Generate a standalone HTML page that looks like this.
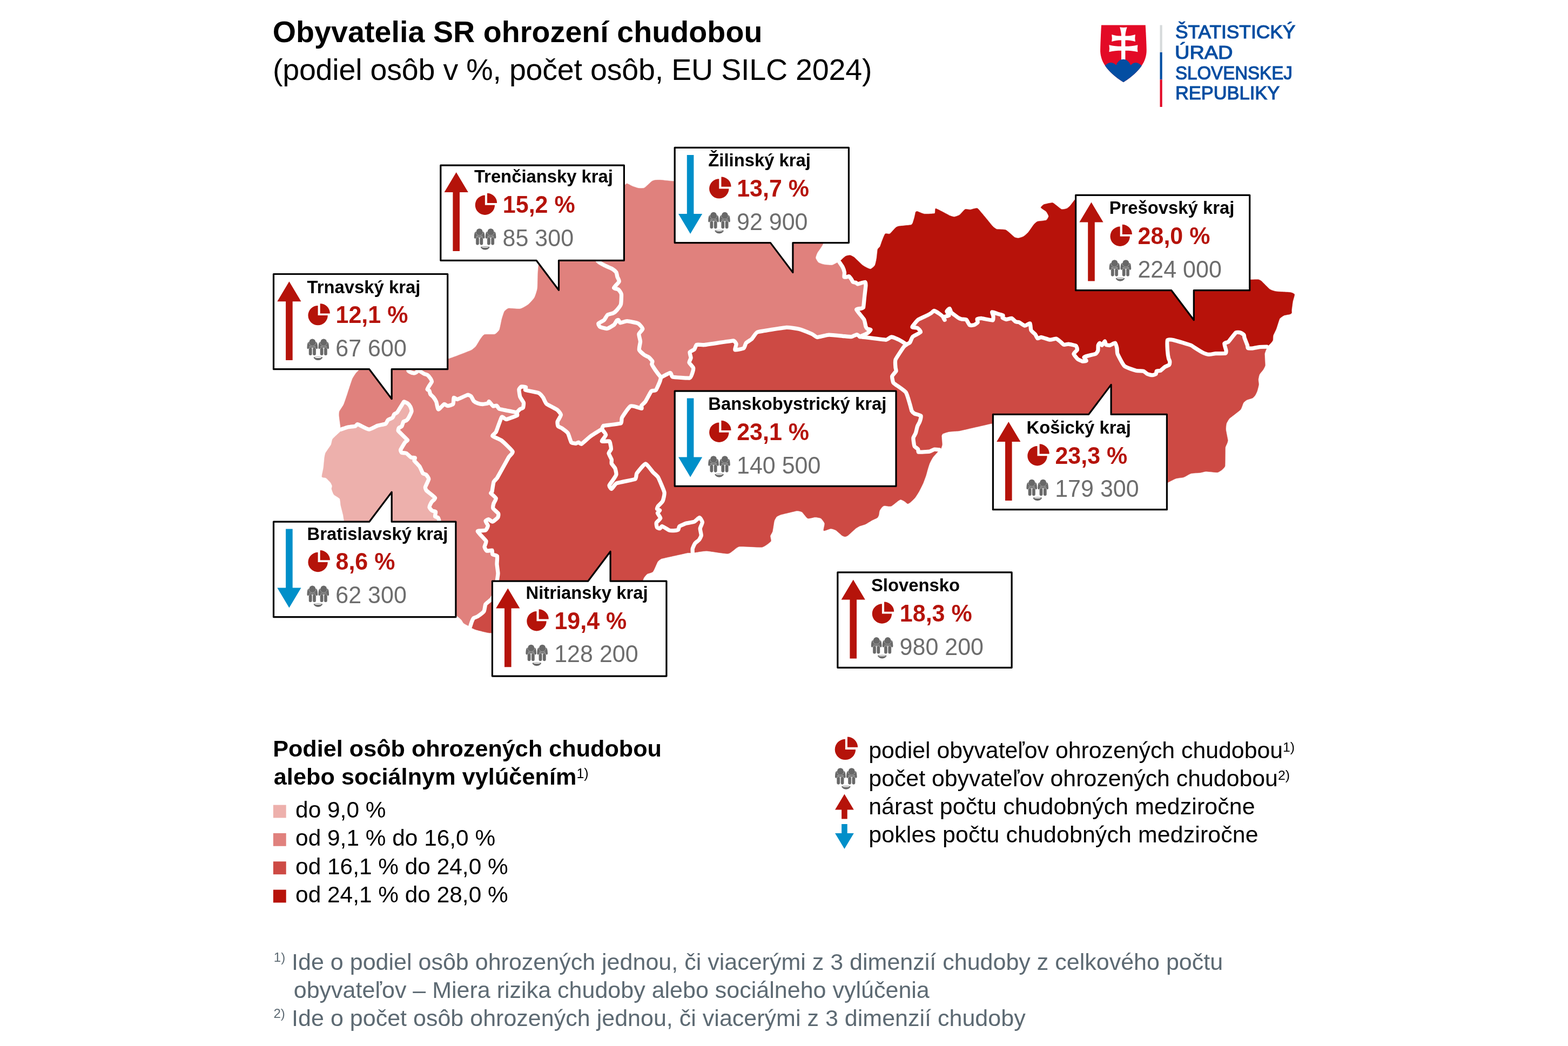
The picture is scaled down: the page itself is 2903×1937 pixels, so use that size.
<!DOCTYPE html>
<html lang="sk"><head><meta charset="utf-8"><title>Obyvatelia SR ohrození chudobou</title>
<style>
html,body{margin:0;padding:0;background:#fff}
body{width:2903px;height:1937px;position:relative;overflow:hidden;font-family:"Liberation Sans",sans-serif;color:#000}
svg{position:absolute;left:0;top:0}
.t{position:absolute;white-space:nowrap;line-height:1;margin:0}
.t sup{font-size:58%;vertical-align:baseline;position:relative;top:-0.48em;line-height:0}
</style></head><body>
<svg width="2903" height="1937" viewBox="0 0 2903 1937">
<defs><clipPath id="pbc"><path d="M2.6 6.4C1.2 7.4.6 10 .3 16.2c-.1 1.700.6 2.600 1.800 2.600 1 0 1.600-.6 1.700-1.800H16.500c.1 1.200.7 1.800 1.700 1.800 1.200 0 1.900-.9 1.800-2.600C19.7 10 19.100 7.400 17.700 6.400 16.900 5.900 16.200 5.900 15.500 6.300H4.800C4.100 5.900 3.400 5.900 2.600 6.400Z"/></clipPath>
<g id="ppl1">
<path fill="#686868" d="M2.6 6.4C1.2 7.4.6 10 .3 16.2c-.1 1.700.6 2.600 1.800 2.600 1 0 1.600-.6 1.700-1.800H16.500c.1 1.200.7 1.800 1.700 1.800 1.200 0 1.900-.9 1.800-2.600C19.7 10 19.100 7.400 17.700 6.400 16.900 5.900 16.200 5.900 15.500 6.300H4.800C4.100 5.900 3.400 5.900 2.600 6.400Z"/>
<circle cx="10.15" cy="6.3" r="6.9" fill="none" stroke="#b4b4b4" stroke-width="0.8" clip-path="url(#pbc)"/>
<circle cx="10.15" cy="6.1" r="5.85" fill="#686868"/>
<path fill="#d2d2d2" d="M4.1 14.2h4.3l-.3.7H4.1ZM11.900 14.200h4.200v.7H12.200ZM8.700 15.300h2.900l-.3.7H9Z"/>
<rect x="3.4" y="16.2" width="6.2" height="14.6" rx="3.1" fill="#b4b4b4"/>
<rect x="10.7" y="16.2" width="6.2" height="14.6" rx="3.1" fill="#b4b4b4"/>
<rect x="3.85" y="16.8" width="5.3" height="13.8" rx="2.65" fill="#686868"/>
<rect x="11.15" y="16.800" width="5.3" height="13.8" rx="2.65" fill="#686868"/>
</g>
<g id="ppl">
<use href="#ppl1"/>
<use href="#ppl1" x="20.9"/>
<path fill="#686868" d="M12.400 34.600a8.300 1.500 0 0 1 16.600 0c-1.300 3.200-4.700 5.200-8.300 5.200s-7-2-8.300-5.200Z"/>
<ellipse cx="20.7" cy="34.7" rx="6.6" ry="0.95" fill="#fff"/>
</g>
</defs>
<g id="map">
<path fill="#edb0ac" stroke="#edb0ac" stroke-width="0.6" stroke-linejoin="round" d="M629.8 795.6C630.6 795.1 642.4 791.4 644.9 790.8C647.4 790.2 656.6 789.5 657.7 789.2C658.8 788.9 660.8 785.9 661.5 785.7C662.2 785.5 664.7 786.6 665.5 787.0C666.3 787.4 680.2 795.0 683.2 795.1C686.2 795.2 696.2 789.2 699.0 788.3C701.8 787.4 712.4 785.6 714.0 784.7C715.6 783.8 717.1 778.7 718.3 777.7C719.5 776.7 725.7 774.4 726.8 773.4C727.9 772.4 729.2 767.9 730.0 767.0C730.8 766.1 734.5 764.8 735.3 763.8C736.1 762.8 745.6 747.4 746.0 746.8C746.4 746.2 747.3 744.0 748.0 744.0C748.7 744.0 753.4 746.0 754.5 746.8C755.6 747.6 759.1 751.9 759.8 753.2C760.5 754.5 762.3 759.9 762.0 761.7C761.7 763.5 757.3 772.1 756.6 773.4C755.9 774.7 753.2 778.0 752.3 778.7C751.4 779.4 747.8 779.9 747.0 780.9C746.2 781.9 744.6 788.4 743.8 789.4C743.0 790.4 739.1 791.7 738.5 792.5C737.9 793.3 736.7 796.9 737.4 797.9C738.1 798.9 753.8 813.8 754.5 814.9C755.2 816.0 750.8 817.9 750.0 819.0C749.2 820.1 742.1 831.8 741.7 833.0C741.3 834.2 742.8 837.7 743.8 838.3C744.8 838.9 750.8 838.6 752.3 839.4C753.8 840.2 759.5 846.0 760.9 846.8C762.3 847.6 767.8 847.3 768.3 847.9C768.8 848.5 766.5 852.0 767.0 853.0C767.5 854.0 775.4 861.7 776.8 863.8C778.2 865.9 782.2 875.6 783.0 876.6C783.8 877.6 787.6 877.8 788.5 878.7C789.4 879.6 793.9 884.9 793.8 887.0C793.7 889.1 787.7 900.5 787.4 902.0C787.1 903.5 788.6 907.4 789.6 908.5C790.6 909.6 804.7 919.9 805.5 921.8C806.3 923.7 799.9 928.2 799.0 929.8C798.1 931.4 794.9 938.0 795.0 939.4C795.1 940.8 799.0 944.9 800.0 945.7C801.0 946.5 806.1 946.9 806.6 947.9C807.1 948.9 805.1 955.4 805.5 956.4C805.9 957.4 810.2 957.7 810.9 958.5C811.6 959.3 813.0 963.4 813.0 964.9C813.0 966.4 813.1 992.5 812.0 1000.0C810.9 1007.5 801.8 1043.4 800.0 1050.0C798.2 1056.6 795.4 1077.8 790.0 1080.0C784.6 1082.2 740.0 1075.0 740.0 1075.0C740.0 1075.0 690.0 1040.0 690.0 1040.0C690.0 1040.0 659.7 1006.8 655.0 1000.0C650.3 993.2 638.4 967.3 637.4 964.9C636.4 962.5 635.9 955.7 635.3 953.2C634.7 950.7 631.6 938.9 631.0 936.2C630.4 933.5 630.1 925.2 629.0 923.4C627.9 921.6 619.6 917.6 618.3 916.0C616.9 914.4 614.2 906.4 614.0 905.3C613.8 904.2 615.2 901.1 615.0 900.0C614.8 898.9 612.9 894.8 612.0 893.6C611.1 892.4 604.8 885.9 603.4 885.0C602.0 884.1 596.4 884.6 596.0 883.0C595.6 881.4 598.6 869.3 599.0 866.0C599.4 862.7 600.6 848.7 600.9 846.8C601.2 844.9 602.1 840.0 603.0 838.3C603.9 836.6 611.9 825.5 613.0 823.4C614.1 821.3 614.6 814.7 616.0 812.8C617.4 810.9 628.8 800.7 629.4 800.0C630.0 799.3 629.0 796.1 629.8 795.6Z"/>
<path fill="#e0817d" stroke="#e0817d" stroke-width="0.6" stroke-linejoin="round" d="M629.8 795.6C628.6 795.5 630.6 791.2 630.5 790.0C630.4 788.8 628.0 771.8 627.9 770.0C627.8 768.2 627.8 763.4 628.5 761.7C629.2 760.0 635.1 751.9 636.4 749.0C637.7 746.1 642.4 731.9 643.8 727.7C645.2 723.5 651.3 704.5 652.3 702.0C653.3 699.5 657.6 693.0 658.7 691.5C659.8 690.0 663.5 686.3 665.0 685.0C666.5 683.7 672.4 678.0 675.0 677.0C677.6 676.0 695.0 672.3 700.0 672.0C705.0 671.7 724.9 673.5 730.0 674.0C735.1 674.5 754.8 677.2 756.5 678.0C758.2 678.8 755.6 685.6 756.0 686.6C756.4 687.6 759.8 689.1 760.8 689.5C761.8 689.9 765.9 691.1 766.8 691.1C767.7 691.1 770.6 689.6 771.3 689.1C772.0 688.6 773.7 685.3 774.5 685.3C775.3 685.3 779.2 688.5 780.2 689.1C781.2 689.7 784.3 691.8 785.3 692.3C786.3 692.8 790.1 693.6 791.1 694.3C792.1 695.0 796.1 699.5 796.8 700.6C797.5 701.7 799.6 705.8 799.4 707.0C799.2 708.2 795.6 712.7 794.9 714.0C794.2 715.3 791.1 720.2 791.1 721.1C791.1 722.0 794.4 722.8 794.9 723.6C795.4 724.4 796.1 728.9 796.8 730.0C797.5 731.1 801.6 734.4 802.6 735.7C803.6 737.0 806.9 742.0 807.7 744.0C808.5 746.0 810.2 757.7 811.5 758.1C812.8 758.5 821.0 749.0 822.4 748.5C823.8 748.0 827.2 751.7 828.7 751.7C830.2 751.7 837.9 749.5 838.9 748.1C839.9 746.7 839.5 737.2 840.2 736.4C840.9 735.6 845.1 739.9 846.6 739.6C848.1 739.3 864.4 731.6 865.8 731.3C867.2 731.0 871.1 732.8 872.1 733.8C873.1 734.8 876.1 741.6 877.2 742.8C878.3 744.0 882.8 746.3 884.3 746.8C885.8 747.3 892.1 748.5 893.8 748.5C895.5 748.5 902.6 747.1 903.4 746.8C904.2 746.5 904.8 743.2 905.5 743.6C906.2 744.0 911.8 751.4 913.0 752.1C914.2 752.8 918.3 750.6 919.4 751.1C920.5 751.6 923.0 756.8 924.7 757.4C926.4 758.0 955.5 763.4 956.6 763.8C957.7 764.2 958.7 768.5 957.7 769.1C956.7 769.7 939.4 776.4 937.4 776.6C935.4 776.8 930.2 770.7 928.9 772.3C927.6 773.9 919.2 798.1 918.3 800.0C917.4 801.9 910.9 806.0 911.9 807.4C912.9 808.8 925.6 813.5 928.9 816.0C932.2 818.5 948.0 833.6 949.1 836.2C950.2 838.8 943.1 844.4 941.7 846.8C940.3 849.2 921.5 883.3 920.4 885.1C919.3 886.9 914.7 890.6 914.0 892.6C913.3 894.6 911.1 909.9 910.9 910.6C910.7 911.3 908.3 912.7 908.7 913.3C909.1 913.9 917.8 921.1 918.3 922.8C918.8 924.5 914.5 930.7 914.0 932.4C913.5 934.1 912.2 939.8 913.0 941.5C913.8 943.2 921.9 949.5 922.6 951.0C923.3 952.5 922.5 957.2 921.5 958.5C920.5 959.8 913.4 965.7 911.9 966.0C910.4 966.3 905.7 961.8 904.5 961.7C903.3 961.6 899.1 963.8 899.0 964.9C898.9 966.0 903.4 971.9 903.4 973.4C903.4 974.9 900.7 980.9 899.0 981.9C897.3 982.9 884.2 982.2 884.3 984.0C884.4 985.8 899.0 999.8 900.0 1002.0C901.0 1004.2 896.9 1011.2 897.0 1012.8C897.1 1014.4 900.0 1019.6 901.3 1020.2C902.6 1020.8 909.9 1018.4 910.9 1019.0C911.9 1019.6 911.0 1025.6 911.9 1026.6C912.8 1027.6 919.7 1028.2 920.4 1029.8C921.1 1031.4 919.9 1041.8 920.0 1044.7C920.1 1047.6 922.0 1059.0 922.0 1061.7C922.0 1064.4 920.7 1071.7 920.4 1074.5C920.1 1077.3 919.0 1091.8 918.0 1095.0C917.0 1098.2 911.5 1107.4 909.8 1109.6C908.1 1111.8 900.2 1117.0 899.0 1119.0C897.8 1121.0 897.3 1130.0 896.0 1132.0C894.7 1134.0 885.8 1140.5 884.3 1141.5C882.8 1142.5 877.8 1143.8 876.8 1144.7C875.8 1145.6 874.2 1149.6 873.6 1151.0C873.0 1152.4 870.6 1160.4 870.5 1160.6C870.4 1160.8 869.6 1160.1 869.4 1160.0C869.2 1159.9 860.0 1155.3 858.7 1154.3C857.4 1153.3 855.6 1149.1 854.5 1147.9C853.4 1146.7 847.9 1141.9 846.0 1140.4C844.1 1138.9 824.9 1125.2 820.0 1120.0C815.1 1114.8 791.8 1086.3 790.0 1080.0C788.2 1073.7 798.2 1056.6 800.0 1050.0C801.8 1043.4 810.9 1007.5 812.0 1000.0C813.1 992.5 813.0 966.4 813.0 964.9C813.0 963.4 811.6 959.3 810.9 958.5C810.2 957.7 805.9 957.4 805.5 956.4C805.1 955.4 807.1 948.9 806.6 947.9C806.1 946.9 801.0 946.5 800.0 945.7C799.0 944.9 795.1 940.8 795.0 939.4C794.9 938.0 798.1 931.4 799.0 929.8C799.9 928.2 806.3 923.7 805.5 921.8C804.7 919.9 790.6 909.6 789.6 908.5C788.6 907.4 787.1 903.5 787.4 902.0C787.7 900.5 793.7 889.1 793.8 887.0C793.9 884.9 789.4 879.6 788.5 878.7C787.6 877.8 783.8 877.6 783.0 876.6C782.2 875.6 778.2 865.9 776.8 863.8C775.4 861.7 767.5 854.0 767.0 853.0C766.5 852.0 768.8 848.5 768.3 847.9C767.8 847.3 762.3 847.6 760.9 846.8C759.5 846.0 753.8 840.2 752.3 839.4C750.8 838.6 744.8 838.9 743.8 838.3C742.8 837.7 741.3 834.2 741.7 833.0C742.1 831.8 749.2 820.1 750.0 819.0C750.8 817.9 755.2 816.0 754.5 814.9C753.8 813.8 738.1 798.9 737.4 797.9C736.7 796.9 737.9 793.3 738.5 792.5C739.1 791.7 743.0 790.4 743.8 789.4C744.6 788.4 746.2 781.9 747.0 780.9C747.8 779.9 751.4 779.4 752.3 778.7C753.2 778.0 755.9 774.7 756.6 773.4C757.3 772.1 761.7 763.5 762.0 761.7C762.3 759.9 760.5 754.5 759.8 753.2C759.1 751.9 755.6 747.6 754.5 746.8C753.4 746.0 748.7 744.0 748.0 744.0C747.3 744.0 746.4 746.2 746.0 746.8C745.6 747.4 736.1 762.8 735.3 763.8C734.5 764.8 730.8 766.1 730.0 767.0C729.2 767.9 727.9 772.4 726.8 773.4C725.7 774.4 719.5 776.7 718.3 777.7C717.1 778.7 715.6 783.8 714.0 784.7C712.4 785.6 701.8 787.4 699.0 788.3C696.2 789.2 686.2 795.2 683.2 795.1C680.2 795.0 666.3 787.4 665.5 787.0C664.7 786.6 662.2 785.5 661.5 785.7C660.8 785.9 658.8 788.9 657.7 789.2C656.6 789.5 647.4 790.2 644.9 790.8C642.4 791.4 631.0 795.7 629.8 795.6Z"/>
<path fill="#e0817d" stroke="#e0817d" stroke-width="0.6" stroke-linejoin="round" d="M756.5 678.0C758.2 677.3 783.3 673.2 790.0 672.0C796.7 670.8 823.6 666.4 831.0 664.3C838.4 662.2 870.5 649.5 872.6 648.5C874.7 647.5 879.5 643.3 881.0 641.5C882.5 639.7 888.2 629.6 889.6 627.7C891.0 625.8 894.7 620.3 897.0 619.6C899.3 618.9 913.7 619.8 916.2 619.0C918.7 618.2 923.6 612.9 924.7 610.6C925.8 608.3 928.2 594.6 929.0 591.5C929.8 588.4 932.9 578.3 934.0 576.6C935.1 574.9 939.7 571.3 941.7 571.0C943.7 570.7 959.7 572.6 963.0 572.0C966.3 571.4 975.6 565.9 978.0 564.0C980.4 562.1 988.1 553.7 989.6 551.0C991.1 548.3 994.5 537.8 995.0 534.0C995.5 530.2 995.7 508.5 996.0 504.0C996.3 499.5 997.5 487.0 998.0 483.0C998.5 479.0 1000.0 463.9 1002.0 460.0C1004.0 456.1 1015.7 443.1 1020.0 440.0C1024.3 436.9 1045.0 428.1 1050.0 425.0C1055.0 421.9 1071.8 402.8 1075.0 405.0C1078.2 407.2 1082.0 442.8 1085.0 450.0C1088.0 457.2 1105.7 482.1 1107.9 484.7C1110.1 487.3 1119.4 491.4 1121.7 492.6C1124.0 493.8 1131.7 496.8 1133.4 497.9C1135.1 499.0 1140.0 503.0 1140.9 504.3C1141.8 505.6 1142.5 511.3 1143.0 512.8C1143.5 514.3 1146.8 519.5 1146.2 521.3C1145.6 523.1 1136.7 531.7 1136.6 533.0C1136.5 534.3 1143.8 535.1 1145.0 536.2C1146.2 537.3 1150.1 542.6 1150.4 544.7C1150.7 546.8 1150.2 561.1 1149.4 563.8C1148.6 566.5 1143.1 573.1 1141.9 574.5C1140.7 575.9 1137.0 579.0 1135.5 579.8C1134.0 580.6 1126.4 581.8 1124.9 583.0C1123.4 584.2 1120.0 591.2 1118.5 592.6C1117.0 594.0 1108.6 597.8 1107.9 598.9C1107.2 600.0 1109.7 604.5 1111.0 605.3C1112.3 606.1 1121.5 608.8 1123.8 608.5C1126.1 608.2 1135.0 603.0 1136.6 601.7C1138.2 600.4 1141.4 594.1 1141.9 593.6C1142.4 593.1 1144.4 592.2 1145.0 592.6C1145.6 593.0 1147.0 597.7 1148.3 597.9C1149.6 598.1 1158.2 594.6 1161.0 594.7C1163.8 594.8 1178.7 597.6 1181.3 598.9C1183.9 600.2 1189.7 607.2 1189.8 609.0C1189.9 610.8 1183.3 616.5 1182.9 618.6C1182.5 620.7 1185.5 629.8 1185.5 632.4C1185.5 635.0 1182.7 645.6 1183.4 647.9C1184.1 650.1 1191.4 656.2 1193.0 657.4C1194.6 658.6 1200.2 660.6 1201.5 661.7C1202.8 662.8 1207.4 668.0 1207.9 669.1C1208.4 670.2 1206.4 673.4 1206.8 674.5C1207.2 675.6 1211.7 682.9 1213.2 685.1C1214.7 687.3 1223.2 697.3 1223.8 698.9C1224.4 700.5 1222.3 704.8 1221.7 706.4C1221.1 708.0 1215.6 720.9 1214.3 722.3C1213.0 723.7 1207.0 723.1 1205.7 724.5C1204.4 725.9 1196.3 741.7 1195.0 743.6C1193.7 745.5 1188.3 750.1 1187.7 751.1C1187.1 752.1 1188.8 756.3 1187.7 756.4C1186.6 756.5 1170.7 750.6 1167.4 752.1C1164.1 753.6 1152.6 771.4 1151.5 773.4C1150.4 775.4 1151.5 783.1 1149.4 784.0C1147.3 784.9 1118.9 787.9 1117.4 788.3C1115.9 788.7 1115.5 793.7 1114.3 794.7C1113.1 795.7 1097.4 804.9 1094.0 807.4C1090.6 809.9 1077.6 821.7 1076.4 822.3C1075.2 822.9 1071.9 819.2 1071.0 819.1C1070.1 819.0 1067.3 821.3 1066.2 821.3C1065.1 821.3 1058.9 820.6 1057.7 819.1C1056.5 817.6 1052.9 804.5 1051.3 802.1C1049.7 799.7 1040.9 793.5 1039.6 792.6C1038.3 791.7 1033.9 790.5 1033.2 789.4C1032.5 788.3 1031.7 782.7 1032.1 780.9C1032.5 779.1 1038.6 770.1 1038.5 768.1C1038.4 766.1 1033.2 760.1 1031.1 758.5C1029.0 756.9 1014.1 749.8 1011.9 747.9C1009.7 746.0 1006.8 738.0 1005.5 736.2C1004.2 734.4 999.4 728.7 997.0 727.7C994.6 726.7 973.7 722.8 972.6 722.3C971.5 721.8 974.3 717.6 973.6 717.0C972.9 716.4 966.2 715.6 965.1 716.0C964.0 716.4 961.1 719.8 960.9 721.3C960.7 722.8 962.2 732.9 963.0 735.1C963.8 737.3 968.9 743.9 969.4 745.7C969.9 747.5 968.9 754.2 968.3 755.3C967.7 756.4 964.0 756.7 963.0 757.4C962.0 758.1 958.6 763.8 956.6 763.8C954.6 763.8 926.4 758.0 924.7 757.4C923.0 756.8 920.5 751.6 919.4 751.1C918.3 750.6 914.2 752.8 913.0 752.1C911.8 751.4 906.2 744.0 905.5 743.6C904.8 743.2 904.2 746.5 903.4 746.8C902.6 747.1 895.5 748.5 893.8 748.5C892.1 748.5 885.8 747.3 884.3 746.8C882.8 746.3 878.3 744.0 877.2 742.8C876.1 741.6 873.1 734.8 872.1 733.8C871.1 732.8 867.2 731.0 865.8 731.3C864.4 731.6 848.1 739.3 846.6 739.6C845.1 739.9 840.9 735.6 840.2 736.4C839.5 737.2 839.9 746.7 838.9 748.1C837.9 749.5 830.2 751.7 828.7 751.7C827.2 751.7 823.8 748.0 822.4 748.5C821.0 749.0 812.8 758.5 811.5 758.1C810.2 757.7 808.5 746.0 807.7 744.0C806.9 742.0 803.6 737.0 802.6 735.7C801.6 734.4 797.5 731.1 796.8 730.0C796.1 728.9 795.4 724.4 794.9 723.6C794.4 722.8 791.1 722.0 791.1 721.1C791.1 720.2 794.2 715.3 794.9 714.0C795.6 712.7 799.2 708.2 799.4 707.0C799.6 705.8 797.5 701.7 796.8 700.6C796.1 699.5 792.1 695.0 791.1 694.3C790.1 693.6 786.3 692.8 785.3 692.3C784.3 691.8 781.2 689.7 780.2 689.1C779.2 688.5 775.3 685.3 774.5 685.3C773.7 685.3 772.0 688.6 771.3 689.1C770.6 689.6 767.7 691.1 766.8 691.1C765.9 691.1 761.8 689.9 760.8 689.5C759.8 689.1 756.4 687.6 756.0 686.6C755.6 685.6 754.8 678.7 756.5 678.0Z"/>
<path fill="#e0817d" stroke="#e0817d" stroke-width="0.6" stroke-linejoin="round" d="M1075.0 405.0C1076.3 398.7 1095.0 384.5 1100.0 380.0C1105.0 375.5 1124.9 358.4 1130.0 355.0C1135.1 351.6 1155.8 343.1 1156.8 342.6C1157.8 342.1 1159.9 339.8 1161.0 340.0C1162.1 340.2 1168.7 343.9 1170.6 344.7C1172.5 345.5 1180.3 348.2 1182.3 348.5C1184.3 348.8 1190.9 349.0 1193.0 347.9C1195.1 346.8 1205.6 336.5 1206.8 335.7C1208.0 334.9 1211.8 333.8 1213.2 333.6C1214.6 333.4 1221.5 333.3 1223.8 333.4C1226.1 333.5 1242.1 335.3 1247.2 335.7C1252.3 336.1 1300.0 340.0 1300.0 340.0C1300.0 340.0 1400.0 335.0 1400.0 335.0C1400.0 335.0 1480.0 380.0 1480.0 380.0C1480.0 380.0 1518.0 430.0 1518.0 430.0C1518.0 430.0 1524.2 447.6 1523.8 451.0C1523.4 454.4 1514.2 466.0 1513.2 468.0C1512.2 470.0 1509.8 476.1 1510.0 477.7C1510.2 479.3 1513.9 485.1 1515.3 486.2C1516.7 487.3 1523.7 489.6 1526.0 490.0C1528.3 490.4 1538.4 491.4 1540.9 491.0C1543.4 490.6 1552.1 484.8 1553.8 485.1C1555.5 485.4 1559.3 493.0 1560.2 494.7C1561.1 496.4 1563.1 502.7 1563.4 504.3C1563.7 505.9 1562.6 512.0 1563.0 512.8C1563.4 513.6 1566.9 512.9 1567.7 512.8C1568.5 512.7 1571.2 511.3 1572.0 511.7C1572.8 512.1 1575.5 516.0 1576.2 517.0C1576.9 518.0 1578.6 521.7 1579.4 522.3C1580.2 522.9 1583.9 523.1 1584.7 523.4C1585.5 523.7 1587.0 526.1 1587.9 526.0C1588.8 525.9 1600.4 522.0 1601.7 522.3C1603.0 522.6 1602.9 528.2 1602.8 529.8C1602.7 531.4 1601.0 545.4 1600.6 548.9C1600.2 552.4 1598.8 568.1 1598.5 569.1C1598.2 570.1 1595.3 571.0 1594.3 571.3C1593.3 571.6 1585.2 571.6 1585.7 573.4C1586.2 575.2 1598.2 589.0 1599.6 591.5C1601.0 594.0 1602.4 603.1 1602.8 604.3C1603.2 605.5 1605.2 608.4 1606.0 609.0C1606.8 609.6 1612.0 609.9 1612.0 610.6C1612.0 611.3 1607.6 616.0 1606.0 617.0C1604.4 618.0 1593.5 623.3 1592.0 623.5C1590.5 623.7 1587.7 619.6 1586.3 619.6C1584.9 619.6 1578.5 623.4 1576.2 623.6C1573.9 623.8 1563.5 622.6 1560.0 622.3C1556.5 622.0 1538.7 620.0 1534.5 620.2C1530.3 620.4 1515.7 624.6 1513.2 624.5C1510.7 624.4 1505.5 619.5 1503.2 618.5C1500.9 617.5 1483.3 610.4 1479.0 609.3C1474.7 608.2 1460.8 606.0 1455.7 606.4C1450.6 606.8 1406.0 613.8 1402.6 614.9C1399.2 616.0 1393.8 625.9 1391.9 627.7C1390.0 629.5 1382.6 633.6 1381.3 635.1C1380.0 636.6 1378.8 643.5 1377.0 644.7C1375.2 645.9 1362.2 648.6 1361.0 647.9C1359.8 647.2 1363.5 638.7 1363.2 637.2C1362.9 635.7 1359.7 630.9 1357.9 630.9C1356.1 630.9 1306.6 638.4 1303.6 638.7C1300.6 639.0 1291.4 637.6 1289.8 638.3C1288.2 639.0 1286.7 645.6 1285.5 646.8C1284.3 648.0 1277.6 650.7 1277.0 652.1C1276.4 653.5 1279.2 661.1 1279.1 662.8C1279.0 664.5 1275.6 669.7 1276.0 671.3C1276.4 672.9 1282.8 679.3 1283.4 680.9C1284.0 682.5 1282.9 687.7 1282.3 689.4C1281.7 691.1 1279.5 699.4 1277.0 700.0C1274.5 700.6 1246.9 698.4 1245.1 697.9C1243.3 697.4 1242.8 690.3 1240.9 690.4C1239.0 690.5 1226.3 699.4 1223.8 698.9C1221.3 698.4 1214.7 687.3 1213.2 685.1C1211.7 682.9 1207.2 675.6 1206.8 674.5C1206.4 673.4 1208.4 670.2 1207.9 669.1C1207.4 668.0 1202.8 662.8 1201.5 661.7C1200.2 660.6 1194.6 658.6 1193.0 657.4C1191.4 656.2 1184.1 650.1 1183.4 647.9C1182.7 645.6 1185.5 635.0 1185.5 632.4C1185.5 629.8 1182.5 620.7 1182.9 618.6C1183.3 616.5 1189.9 610.8 1189.8 609.0C1189.7 607.2 1183.9 600.2 1181.3 598.9C1178.7 597.6 1163.8 594.8 1161.0 594.7C1158.2 594.6 1149.6 598.1 1148.3 597.9C1147.0 597.7 1145.6 593.0 1145.0 592.6C1144.4 592.2 1142.4 593.1 1141.9 593.6C1141.4 594.1 1138.2 600.4 1136.6 601.7C1135.0 603.0 1126.1 608.2 1123.8 608.5C1121.5 608.8 1112.3 606.1 1111.0 605.3C1109.7 604.5 1107.2 600.0 1107.9 598.9C1108.6 597.8 1117.0 594.0 1118.5 592.6C1120.0 591.2 1123.4 584.2 1124.9 583.0C1126.4 581.8 1134.0 580.6 1135.5 579.8C1137.0 579.0 1140.7 575.9 1141.9 574.5C1143.1 573.1 1148.6 566.5 1149.4 563.8C1150.2 561.1 1150.7 546.8 1150.4 544.7C1150.1 542.6 1146.2 537.3 1145.0 536.2C1143.8 535.1 1136.5 534.3 1136.6 533.0C1136.7 531.7 1145.6 523.1 1146.2 521.3C1146.8 519.5 1143.5 514.3 1143.0 512.8C1142.5 511.3 1141.8 505.6 1140.9 504.3C1140.0 503.0 1135.1 499.0 1133.4 497.9C1131.7 496.8 1124.0 493.8 1121.7 492.6C1119.4 491.4 1110.1 487.3 1107.9 484.7C1105.7 482.1 1088.0 457.2 1085.0 450.0C1082.0 442.8 1073.7 411.3 1075.0 405.0Z"/>
<path fill="#cd4a44" stroke="#cd4a44" stroke-width="0.6" stroke-linejoin="round" d="M1282.3 1023.4C1281.4 1024.1 1274.8 1023.4 1272.8 1023.8C1270.8 1024.2 1226.9 1033.9 1224.9 1034.5C1222.9 1035.1 1218.5 1038.7 1217.4 1040.4C1216.3 1042.1 1210.5 1056.6 1208.9 1058.5C1207.3 1060.4 1199.8 1061.7 1198.3 1062.8C1196.8 1063.9 1193.0 1068.4 1191.9 1070.2C1190.8 1072.0 1187.9 1083.0 1185.0 1085.0C1182.1 1087.0 1157.3 1096.2 1150.0 1100.0C1142.7 1103.8 1100.0 1130.0 1100.0 1130.0C1100.0 1130.0 1000.0 1160.0 1000.0 1160.0C1000.0 1160.0 940.0 1172.0 940.0 1172.0C940.0 1172.0 909.3 1172.2 905.5 1171.9C901.7 1171.6 890.8 1168.7 888.5 1168.1C886.2 1167.5 879.5 1165.6 877.9 1164.9C876.3 1164.2 870.9 1161.9 870.5 1160.6C870.1 1159.3 873.0 1152.4 873.6 1151.0C874.2 1149.6 875.8 1145.6 876.8 1144.7C877.8 1143.8 882.8 1142.5 884.3 1141.5C885.8 1140.5 894.7 1134.0 896.0 1132.0C897.3 1130.0 897.8 1121.0 899.0 1119.0C900.2 1117.0 908.1 1111.8 909.8 1109.6C911.5 1107.4 917.0 1098.2 918.0 1095.0C919.0 1091.8 920.1 1077.3 920.4 1074.5C920.7 1071.7 922.0 1064.4 922.0 1061.7C922.0 1059.0 920.1 1047.6 920.0 1044.7C919.9 1041.8 921.1 1031.4 920.4 1029.8C919.7 1028.2 912.8 1027.6 911.9 1026.6C911.0 1025.6 911.9 1019.6 910.9 1019.0C909.9 1018.4 902.6 1020.8 901.3 1020.2C900.0 1019.6 897.1 1014.4 897.0 1012.8C896.9 1011.2 901.0 1004.2 900.0 1002.0C899.0 999.8 884.4 985.8 884.3 984.0C884.2 982.2 897.3 982.9 899.0 981.9C900.7 980.9 903.4 974.9 903.4 973.4C903.4 971.9 898.9 966.0 899.0 964.9C899.1 963.8 903.3 961.6 904.5 961.7C905.7 961.8 910.4 966.3 911.9 966.0C913.4 965.7 920.5 959.8 921.5 958.5C922.5 957.2 923.3 952.5 922.6 951.0C921.9 949.5 913.8 943.2 913.0 941.5C912.2 939.8 913.5 934.1 914.0 932.4C914.5 930.7 918.8 924.5 918.3 922.8C917.8 921.1 909.1 913.9 908.7 913.3C908.3 912.7 910.7 911.3 910.9 910.6C911.1 909.9 913.3 894.6 914.0 892.6C914.7 890.6 919.3 886.9 920.4 885.1C921.5 883.3 940.3 849.2 941.7 846.8C943.1 844.4 950.2 838.8 949.1 836.2C948.0 833.6 932.2 818.5 928.9 816.0C925.6 813.5 912.9 808.8 911.9 807.4C910.9 806.0 917.4 801.9 918.3 800.0C919.2 798.1 927.6 773.9 928.9 772.3C930.2 770.7 935.4 776.8 937.4 776.6C939.4 776.4 956.7 769.7 957.7 769.1C958.7 768.5 956.1 764.9 956.6 763.8C957.1 762.7 962.0 758.1 963.0 757.4C964.0 756.7 967.7 756.4 968.3 755.3C968.9 754.2 969.9 747.5 969.4 745.7C968.9 743.9 963.8 737.3 963.0 735.1C962.2 732.9 960.7 722.8 960.9 721.3C961.1 719.8 964.0 716.4 965.1 716.0C966.2 715.6 972.9 716.4 973.6 717.0C974.3 717.6 971.5 721.8 972.6 722.3C973.7 722.8 994.6 726.7 997.0 727.7C999.4 728.7 1004.2 734.4 1005.5 736.2C1006.8 738.0 1009.7 746.0 1011.9 747.9C1014.1 749.8 1029.0 756.9 1031.1 758.5C1033.2 760.1 1038.4 766.1 1038.5 768.1C1038.6 770.1 1032.5 779.1 1032.1 780.9C1031.7 782.7 1032.5 788.3 1033.2 789.4C1033.9 790.5 1038.3 791.7 1039.6 792.6C1040.9 793.5 1049.7 799.7 1051.3 802.1C1052.9 804.5 1056.5 817.6 1057.7 819.1C1058.9 820.6 1065.1 821.3 1066.2 821.3C1067.3 821.3 1070.1 819.0 1071.0 819.1C1071.9 819.2 1075.2 822.9 1076.4 822.3C1077.6 821.7 1090.6 809.9 1094.0 807.4C1097.4 804.9 1111.8 794.9 1114.3 794.7C1116.8 794.5 1121.7 803.3 1121.7 805.3C1121.7 807.3 1113.7 815.9 1114.3 817.0C1114.9 818.1 1126.6 816.5 1128.0 817.0C1129.4 817.5 1129.9 822.1 1130.2 823.4C1130.5 824.7 1131.6 830.5 1131.3 831.9C1131.0 833.3 1126.9 837.7 1127.0 839.4C1127.1 841.1 1131.9 849.4 1132.3 851.0C1132.7 852.6 1131.7 857.1 1132.3 858.5C1132.9 859.9 1137.9 865.2 1138.7 867.0C1139.5 868.8 1141.3 876.7 1140.9 878.7C1140.5 880.7 1135.7 887.6 1134.5 889.4C1133.3 891.2 1128.2 897.5 1128.0 898.9C1127.8 900.3 1131.0 905.7 1132.3 905.3C1133.6 904.9 1139.0 895.9 1141.9 894.7C1144.8 893.5 1173.9 888.2 1176.0 887.2C1178.1 886.2 1177.7 878.6 1179.0 876.6C1180.3 874.6 1192.3 859.2 1195.0 859.0C1197.7 858.8 1207.0 872.4 1209.0 874.5C1211.0 876.6 1217.1 881.5 1218.5 884.0C1219.9 886.5 1229.3 908.2 1230.0 911.7C1230.7 915.2 1228.0 925.4 1227.0 927.7C1226.0 930.0 1219.2 936.2 1218.5 937.2C1217.8 938.2 1216.1 941.9 1216.4 942.6C1216.7 943.3 1221.6 944.4 1221.7 945.1C1221.8 945.8 1217.3 948.7 1217.4 950.0C1217.5 951.3 1223.0 958.0 1222.8 959.6C1222.6 961.2 1215.9 966.5 1215.3 968.0C1214.7 969.5 1215.8 975.6 1216.4 976.6C1217.0 977.6 1220.8 978.9 1221.7 978.7C1222.6 978.5 1224.7 974.3 1226.0 974.5C1227.3 974.7 1237.0 981.2 1238.7 981.9C1240.4 982.6 1245.7 982.7 1247.2 982.6C1248.7 982.5 1254.7 981.6 1255.7 980.9C1256.7 980.2 1256.8 975.4 1257.9 974.5C1259.0 973.6 1268.1 969.9 1270.6 969.1C1273.1 968.3 1283.3 967.0 1285.5 966.0C1287.7 965.0 1293.7 958.4 1295.0 958.5C1296.3 958.6 1300.3 965.2 1300.4 967.0C1300.5 968.8 1296.4 976.5 1296.2 978.7C1296.0 980.9 1298.5 989.6 1298.3 991.5C1298.1 993.4 1295.1 998.7 1294.0 1000.0C1292.9 1001.3 1287.7 1005.0 1286.6 1006.4C1285.5 1007.8 1282.7 1014.5 1282.3 1016.0C1281.9 1017.5 1283.2 1022.7 1282.3 1023.4Z"/>
<path fill="#cd4a44" stroke="#cd4a44" stroke-width="0.6" stroke-linejoin="round" d="M1739.0 833.0C1738.8 834.3 1728.8 844.5 1727.2 846.8C1725.6 849.1 1721.9 856.2 1720.9 858.5C1719.9 860.8 1717.1 870.6 1716.6 872.3C1716.1 874.0 1715.0 878.4 1714.5 880.0C1714.0 881.6 1710.2 892.3 1709.0 895.0C1707.8 897.7 1703.0 907.4 1701.7 909.8C1700.4 912.2 1695.7 919.7 1694.3 921.5C1692.9 923.3 1686.7 929.2 1685.7 930.0C1684.7 930.8 1681.4 932.9 1680.4 932.8C1679.4 932.7 1676.1 929.2 1675.0 928.5C1673.9 927.8 1668.8 925.1 1667.7 925.0C1666.6 924.9 1663.4 927.1 1662.3 927.9C1661.2 928.7 1651.6 936.4 1650.6 937.0C1649.6 937.6 1646.4 937.4 1645.3 937.4C1644.2 937.4 1637.9 936.2 1636.8 936.4C1635.7 936.6 1633.4 938.7 1632.6 939.6C1631.8 940.5 1628.8 944.7 1628.3 946.0C1627.8 947.3 1627.2 953.4 1626.8 954.5C1626.4 955.6 1624.9 958.3 1624.0 959.0C1623.1 959.7 1616.4 962.4 1614.5 963.4C1612.6 964.4 1604.8 969.4 1602.8 970.4C1600.8 971.4 1593.6 973.3 1592.0 974.0C1590.4 974.7 1586.1 977.2 1584.7 978.3C1583.3 979.4 1570.8 991.0 1569.8 991.7C1568.8 992.4 1565.5 993.8 1564.5 993.8C1563.5 993.8 1560.0 992.4 1559.0 991.7C1558.0 991.0 1549.2 982.8 1547.4 981.7C1545.6 980.6 1539.9 978.8 1537.9 978.9C1535.9 979.0 1526.0 983.5 1525.0 982.6C1524.0 981.7 1527.3 971.5 1526.8 969.4C1526.3 967.3 1521.4 960.9 1519.8 959.8C1518.2 958.7 1511.2 957.7 1509.0 957.7C1506.8 957.7 1497.5 960.7 1495.3 959.8C1493.1 958.9 1486.5 949.2 1484.7 948.0C1482.9 946.8 1477.1 945.7 1475.0 946.0C1472.9 946.3 1446.7 952.7 1445.0 953.2C1443.3 953.7 1438.7 955.9 1437.7 957.0C1436.7 958.1 1433.9 963.0 1433.4 964.9C1432.9 966.8 1430.7 982.0 1430.2 984.0C1429.7 986.0 1426.3 990.9 1426.0 992.6C1425.7 994.3 1428.3 1000.8 1427.0 1002.6C1425.7 1004.4 1415.1 1012.5 1411.0 1013.2C1406.9 1013.9 1373.6 1011.1 1368.5 1012.1C1363.4 1013.1 1353.4 1024.4 1348.3 1025.1C1343.2 1025.8 1313.5 1020.3 1307.9 1020.2C1302.3 1020.1 1283.9 1023.7 1282.3 1023.4C1280.7 1023.1 1281.9 1017.5 1282.3 1016.0C1282.7 1014.5 1285.5 1007.8 1286.6 1006.4C1287.7 1005.0 1292.9 1001.3 1294.0 1000.0C1295.1 998.7 1298.1 993.4 1298.3 991.5C1298.5 989.6 1296.0 980.9 1296.2 978.7C1296.4 976.5 1300.5 968.8 1300.4 967.0C1300.3 965.2 1296.3 958.6 1295.0 958.5C1293.7 958.4 1287.7 965.0 1285.5 966.0C1283.3 967.0 1273.1 968.3 1270.6 969.1C1268.1 969.9 1259.0 973.6 1257.9 974.5C1256.8 975.4 1256.7 980.2 1255.7 980.9C1254.7 981.6 1248.7 982.5 1247.2 982.6C1245.7 982.7 1240.4 982.6 1238.7 981.9C1237.0 981.2 1227.3 974.7 1226.0 974.5C1224.7 974.3 1222.6 978.5 1221.7 978.7C1220.8 978.9 1217.0 977.6 1216.4 976.6C1215.8 975.6 1214.7 969.5 1215.3 968.0C1215.9 966.5 1222.6 961.2 1222.8 959.6C1223.0 958.0 1217.5 951.3 1217.4 950.0C1217.3 948.7 1221.8 945.8 1221.7 945.1C1221.6 944.4 1216.7 943.3 1216.4 942.6C1216.1 941.9 1217.8 938.2 1218.5 937.2C1219.2 936.2 1226.0 930.0 1227.0 927.7C1228.0 925.4 1230.7 915.2 1230.0 911.7C1229.3 908.2 1219.9 886.5 1218.5 884.0C1217.1 881.5 1211.0 876.6 1209.0 874.5C1207.0 872.4 1197.7 858.8 1195.0 859.0C1192.3 859.2 1180.3 874.6 1179.0 876.6C1177.7 878.6 1178.1 886.2 1176.0 887.2C1173.9 888.2 1144.8 893.5 1141.9 894.7C1139.0 895.9 1133.6 904.9 1132.3 905.3C1131.0 905.7 1127.8 900.3 1128.0 898.9C1128.2 897.5 1133.3 891.2 1134.5 889.4C1135.7 887.6 1140.5 880.7 1140.9 878.7C1141.3 876.7 1139.5 868.8 1138.7 867.0C1137.9 865.2 1132.9 859.9 1132.3 858.5C1131.7 857.1 1132.7 852.6 1132.3 851.0C1131.9 849.4 1127.1 841.1 1127.0 839.4C1126.9 837.7 1131.0 833.3 1131.3 831.9C1131.6 830.5 1130.5 824.7 1130.2 823.4C1129.9 822.1 1129.4 817.5 1128.0 817.0C1126.6 816.5 1114.9 818.1 1114.3 817.0C1113.7 815.9 1121.7 807.3 1121.7 805.3C1121.7 803.3 1114.7 796.2 1114.3 794.7C1113.9 793.2 1115.9 788.7 1117.4 788.3C1118.9 787.9 1147.3 784.9 1149.4 784.0C1151.5 783.1 1150.4 775.4 1151.5 773.4C1152.6 771.4 1164.1 753.6 1167.4 752.1C1170.7 750.6 1186.6 756.5 1187.7 756.4C1188.8 756.3 1187.1 752.1 1187.7 751.1C1188.3 750.1 1193.7 745.5 1195.0 743.6C1196.3 741.7 1204.4 725.9 1205.7 724.5C1207.0 723.1 1213.0 723.7 1214.3 722.3C1215.6 720.9 1221.1 708.0 1221.7 706.4C1222.3 704.8 1222.5 700.0 1223.8 698.9C1225.1 697.8 1239.0 690.5 1240.9 690.4C1242.8 690.3 1243.3 697.4 1245.1 697.9C1246.9 698.4 1274.5 700.6 1277.0 700.0C1279.5 699.4 1281.7 691.1 1282.3 689.4C1282.9 687.7 1284.0 682.5 1283.4 680.9C1282.8 679.3 1276.4 672.9 1276.0 671.3C1275.6 669.7 1279.0 664.5 1279.1 662.8C1279.2 661.1 1276.4 653.5 1277.0 652.1C1277.6 650.7 1284.3 648.0 1285.5 646.8C1286.7 645.6 1288.2 639.0 1289.8 638.3C1291.4 637.6 1300.6 639.0 1303.6 638.7C1306.6 638.4 1356.1 630.9 1357.9 630.9C1359.7 630.9 1362.9 635.7 1363.2 637.2C1363.5 638.7 1359.8 647.2 1361.0 647.9C1362.2 648.6 1375.2 645.9 1377.0 644.7C1378.8 643.5 1380.0 636.6 1381.3 635.1C1382.6 633.6 1390.0 629.5 1391.9 627.7C1393.8 625.9 1399.2 616.0 1402.6 614.9C1406.0 613.8 1450.6 606.8 1455.7 606.4C1460.8 606.0 1474.7 608.2 1479.0 609.3C1483.3 610.4 1500.9 617.5 1503.2 618.5C1505.5 619.5 1510.7 624.4 1513.2 624.5C1515.7 624.6 1530.3 620.4 1534.5 620.2C1538.7 620.0 1556.5 622.0 1560.0 622.3C1563.5 622.6 1573.9 623.8 1576.2 623.6C1578.5 623.4 1584.9 619.6 1586.3 619.6C1587.7 619.6 1590.5 623.2 1592.0 623.5C1593.5 623.8 1637.4 629.3 1640.0 629.3C1642.6 629.3 1648.4 624.0 1650.6 624.0C1652.8 624.0 1662.0 628.0 1664.5 629.3C1667.0 630.6 1677.5 636.7 1678.3 637.9C1679.1 639.1 1673.9 641.4 1673.0 642.6C1672.1 643.8 1659.2 663.0 1658.0 666.0C1656.8 669.0 1657.9 679.5 1658.0 680.9C1658.1 682.3 1659.5 685.9 1659.0 687.2C1658.5 688.5 1652.2 694.9 1651.7 696.8C1651.2 698.7 1653.2 707.2 1653.8 708.5C1654.4 709.8 1657.8 711.9 1659.0 712.8C1660.2 713.7 1674.9 723.4 1677.2 726.6C1679.5 729.8 1683.9 746.4 1684.7 748.9C1685.5 751.4 1687.2 759.1 1687.9 760.6C1688.6 762.1 1691.8 765.2 1693.2 766.0C1694.6 766.8 1704.1 768.9 1705.0 770.2C1705.9 771.5 1703.4 779.2 1702.8 780.9C1702.2 782.6 1699.2 787.5 1698.5 789.4C1697.8 791.3 1696.0 800.2 1695.3 802.1C1694.6 804.0 1691.3 808.9 1691.0 810.6C1690.7 812.3 1691.8 820.1 1692.0 821.3C1692.2 822.5 1692.5 825.6 1693.2 826.6C1693.9 827.6 1698.9 830.9 1699.6 831.9C1700.3 832.9 1699.5 837.0 1700.6 837.2C1701.7 837.4 1718.9 836.5 1720.9 836.2C1722.9 835.9 1727.8 832.6 1729.4 832.3C1731.0 832.0 1739.2 831.7 1739.0 833.0Z"/>
<path fill="#cd4a44" stroke="#cd4a44" stroke-width="0.6" stroke-linejoin="round" d="M2345.5 642.1C2346.6 642.7 2343.8 647.7 2343.4 648.9C2343.0 650.1 2341.4 653.8 2341.3 655.3C2341.2 656.8 2342.4 674.9 2342.3 676.6C2342.2 678.3 2339.9 682.5 2339.0 684.0C2338.1 685.5 2332.5 691.9 2331.7 693.6C2330.9 695.3 2329.7 701.3 2329.6 703.0C2329.5 704.7 2330.6 710.5 2330.4 712.4C2330.2 714.3 2328.0 722.7 2327.4 724.5C2326.8 726.3 2324.3 731.4 2323.5 732.5C2322.7 733.6 2320.2 736.4 2319.0 737.0C2317.8 737.6 2309.8 739.8 2308.3 740.6C2306.8 741.4 2303.0 744.5 2302.0 746.0C2301.0 747.5 2298.6 756.5 2296.6 758.7C2294.6 760.9 2278.1 773.0 2276.4 774.7C2274.7 776.4 2271.2 782.4 2270.6 784.3C2270.0 786.2 2269.4 793.5 2269.6 796.0C2269.8 798.5 2273.1 813.9 2273.2 815.1C2273.3 816.3 2272.4 819.3 2272.0 820.4C2271.6 821.5 2268.7 826.9 2268.5 828.9C2268.3 830.9 2268.3 861.1 2268.0 863.0C2267.7 864.9 2263.9 868.7 2262.6 869.8C2261.3 870.9 2256.1 874.5 2254.0 874.7C2251.9 874.9 2235.2 873.0 2232.8 873.0C2230.4 873.0 2224.4 875.0 2222.0 875.3C2219.6 875.6 2207.8 876.0 2205.0 876.8C2202.2 877.6 2193.8 883.0 2191.3 883.8C2188.8 884.6 2180.0 885.2 2177.4 886.0C2174.8 886.8 2165.1 891.9 2162.6 893.2C2160.1 894.5 2150.0 900.0 2150.0 900.0C2150.0 900.0 1850.0 900.0 1850.0 900.0C1850.0 900.0 1836.8 784.0 1836.8 784.0C1836.8 784.0 1776.2 797.9 1776.2 797.9C1776.2 797.9 1759.6 799.0 1757.0 799.4C1754.4 799.8 1746.2 802.7 1745.3 803.2C1744.4 803.7 1743.3 806.4 1743.2 807.4C1743.1 808.4 1744.4 821.7 1744.3 823.4C1744.2 825.1 1742.4 830.2 1742.0 830.9C1741.6 831.6 1739.8 832.9 1739.0 833.0C1738.2 833.1 1731.0 832.0 1729.4 832.3C1727.8 832.6 1722.9 835.9 1720.9 836.2C1718.9 836.5 1701.7 837.4 1700.6 837.2C1699.5 837.0 1700.3 832.9 1699.6 831.9C1698.9 830.9 1693.9 827.6 1693.2 826.6C1692.5 825.6 1692.2 822.5 1692.0 821.3C1691.8 820.1 1690.7 812.3 1691.0 810.6C1691.3 808.9 1694.6 804.0 1695.3 802.1C1696.0 800.2 1697.8 791.3 1698.5 789.4C1699.2 787.5 1702.2 782.6 1702.8 780.9C1703.4 779.2 1705.9 771.5 1705.0 770.2C1704.1 768.9 1694.6 766.8 1693.2 766.0C1691.8 765.2 1688.6 762.1 1687.9 760.6C1687.2 759.1 1685.5 751.4 1684.7 748.9C1683.9 746.4 1679.5 729.8 1677.2 726.6C1674.9 723.4 1660.2 713.7 1659.0 712.8C1657.8 711.9 1654.4 709.8 1653.8 708.5C1653.2 707.2 1651.2 698.7 1651.7 696.8C1652.2 694.9 1658.5 688.5 1659.0 687.2C1659.5 685.9 1658.1 682.3 1658.0 680.9C1657.9 679.5 1656.8 669.0 1658.0 666.0C1659.2 663.0 1672.1 643.8 1673.0 642.6C1673.9 641.4 1677.2 638.7 1678.3 637.9C1679.4 637.1 1683.7 635.3 1684.7 634.0C1685.7 632.7 1688.2 625.1 1690.0 623.4C1691.8 621.7 1703.6 616.4 1704.4 615.0C1705.2 613.6 1699.9 608.2 1698.5 607.4C1697.1 606.6 1689.5 606.5 1689.0 605.8C1688.5 605.1 1692.2 600.7 1693.2 599.4C1694.2 598.1 1698.6 592.8 1700.6 591.5C1702.6 590.2 1715.0 584.8 1716.6 584.0C1718.2 583.2 1722.8 580.6 1724.0 579.8C1725.2 579.0 1728.1 575.4 1729.4 575.5C1730.8 575.6 1737.5 579.8 1739.0 580.9C1740.5 582.0 1745.6 586.2 1746.4 587.2C1747.2 588.2 1749.0 592.5 1749.0 592.5C1749.0 592.5 1745.7 588.0 1746.4 587.2C1747.1 586.4 1756.4 585.0 1757.0 584.0C1757.6 583.0 1752.7 577.7 1752.8 576.6C1752.9 575.5 1757.2 571.1 1758.0 571.3C1758.8 571.5 1760.1 577.4 1761.3 578.7C1762.5 580.0 1772.7 587.5 1774.0 588.3C1775.3 589.1 1779.1 590.7 1780.4 591.0C1781.8 591.3 1787.7 591.0 1789.0 592.0C1790.3 593.0 1794.0 601.2 1795.3 602.1C1796.6 603.0 1802.5 602.2 1803.8 601.7C1805.1 601.2 1809.7 597.8 1810.2 596.8C1810.7 595.8 1808.5 591.7 1809.1 591.0C1809.7 590.3 1814.9 589.3 1816.6 589.4C1818.3 589.5 1836.2 593.5 1837.9 593.2C1839.6 592.9 1839.0 586.5 1838.9 585.1C1838.8 583.7 1836.1 578.1 1836.8 577.7C1837.5 577.3 1844.6 580.3 1846.4 580.9C1848.2 581.5 1856.2 583.4 1857.0 584.0C1857.8 584.6 1855.4 587.6 1856.0 588.3C1856.6 589.0 1861.9 591.4 1863.4 591.5C1864.9 591.6 1871.5 589.0 1873.0 589.4C1874.5 589.8 1879.2 595.0 1880.4 595.7C1881.6 596.4 1885.5 596.2 1886.8 596.8C1888.1 597.4 1895.6 603.0 1897.4 603.2C1899.2 603.4 1906.0 598.1 1907.0 598.9C1908.0 599.7 1908.1 609.9 1909.0 611.7C1909.9 613.5 1915.5 617.8 1916.6 619.1C1917.7 620.4 1919.8 626.1 1920.9 626.6C1922.0 627.1 1926.6 624.3 1928.3 624.5C1930.0 624.7 1941.9 629.0 1944.3 629.2C1946.7 629.4 1953.8 626.8 1955.5 627.1C1957.2 627.4 1961.5 631.4 1962.8 632.4C1964.1 633.4 1968.4 637.9 1969.8 638.3C1971.2 638.7 1976.5 637.0 1978.3 637.2C1980.1 637.4 1990.6 639.5 1992.0 640.4C1993.4 641.3 1994.7 646.6 1994.3 647.9C1993.9 649.2 1987.8 653.8 1987.9 655.3C1988.0 656.8 1993.9 663.7 1995.3 664.9C1996.7 666.1 2002.4 668.8 2003.8 669.1C2005.2 669.4 2011.0 668.8 2011.3 668.1C2011.6 667.4 2007.0 662.5 2007.0 661.7C2007.0 660.9 2010.3 659.9 2011.3 659.6C2012.3 659.3 2027.0 656.0 2028.5 655.3C2030.0 654.6 2032.4 650.3 2032.8 648.9C2033.2 647.5 2032.9 640.5 2033.2 639.4C2033.5 638.3 2035.4 635.1 2036.0 635.1C2036.6 635.1 2039.3 639.7 2040.2 639.4C2041.1 639.1 2044.8 632.0 2045.5 631.9C2046.2 631.8 2046.8 637.6 2047.7 638.3C2048.6 639.0 2053.5 639.7 2055.0 639.4C2056.5 639.1 2063.5 634.6 2064.7 635.1C2065.9 635.6 2067.5 642.9 2067.9 644.7C2068.3 646.5 2068.1 653.2 2069.0 655.3C2069.9 657.4 2078.6 674.9 2081.7 677.7C2084.8 680.5 2100.1 685.4 2103.0 686.2C2105.9 687.0 2114.9 686.6 2116.8 687.2C2118.7 687.8 2122.9 691.9 2124.3 692.6C2125.7 693.3 2131.4 694.7 2132.8 694.7C2134.2 694.7 2139.4 693.3 2140.2 692.6C2141.0 691.9 2140.5 687.8 2141.3 687.2C2142.1 686.6 2147.4 686.9 2148.7 686.2C2150.0 685.5 2154.8 680.8 2156.2 679.8C2157.6 678.8 2163.8 676.5 2164.7 675.5C2165.6 674.5 2165.8 670.2 2165.7 669.1C2165.6 668.0 2163.9 665.0 2163.6 663.8C2163.3 662.6 2161.7 652.0 2161.5 648.9C2161.3 645.8 2160.4 631.5 2161.5 629.8C2162.6 628.1 2170.7 629.3 2173.2 629.8C2175.7 630.3 2203.4 638.8 2205.0 639.4C2206.6 640.0 2210.1 642.7 2211.5 643.6C2212.9 644.5 2225.2 652.2 2227.4 653.2C2229.6 654.2 2235.9 656.3 2238.0 656.4C2240.1 656.5 2248.1 654.9 2250.9 654.7C2253.7 654.5 2267.9 654.6 2269.0 654.3C2270.1 654.0 2270.1 650.1 2270.0 648.9C2269.9 647.7 2266.4 637.6 2266.8 636.2C2267.2 634.8 2273.0 634.2 2274.3 633.0C2275.6 631.8 2286.5 617.1 2288.0 616.0C2289.5 614.9 2295.2 615.6 2296.6 616.0C2297.9 616.4 2302.3 619.3 2303.0 620.2C2303.7 621.1 2303.6 624.4 2304.0 625.5C2304.4 626.6 2309.0 638.3 2309.4 639.4C2309.8 640.5 2309.6 644.2 2310.4 644.7C2311.2 645.2 2316.3 645.3 2317.9 645.1C2319.5 644.9 2329.2 642.9 2331.7 642.6C2334.2 642.3 2344.4 641.5 2345.5 642.1Z"/>
<path fill="#b7120a" stroke="#b7120a" stroke-width="0.6" stroke-linejoin="round" d="M1553.8 485.1C1553.6 484.2 1556.3 482.6 1557.0 482.0C1557.7 481.4 1564.0 475.3 1565.5 474.5C1567.0 473.7 1572.6 472.6 1574.0 472.8C1575.4 473.0 1580.1 475.5 1581.5 476.6C1582.9 477.7 1594.7 489.5 1597.4 491.5C1600.1 493.5 1609.3 498.3 1611.3 498.3C1613.3 498.3 1618.7 493.3 1619.8 491.5C1620.9 489.7 1622.5 481.4 1623.0 478.7C1623.5 476.0 1624.6 463.1 1625.0 461.7C1625.4 460.3 1628.7 457.7 1629.4 456.4C1630.1 455.1 1632.7 446.8 1633.6 444.7C1634.5 442.6 1637.7 434.1 1638.9 433.0C1640.1 431.9 1645.8 433.9 1647.4 433.0C1649.0 432.1 1657.0 422.5 1658.0 421.7C1659.0 420.9 1662.1 419.3 1663.4 419.1C1664.7 418.9 1685.8 416.8 1686.8 416.6C1687.8 416.4 1689.6 413.8 1690.0 412.8C1690.4 411.8 1692.7 403.9 1693.2 402.1C1693.7 400.3 1695.0 393.3 1695.3 392.6C1695.6 391.9 1697.8 391.3 1698.5 391.5C1699.2 391.7 1708.4 395.9 1711.3 396.2C1714.2 396.5 1728.6 396.2 1730.4 395.3C1732.2 394.4 1730.6 385.9 1732.6 386.2C1734.6 386.5 1757.5 398.9 1759.0 399.6C1760.5 400.3 1765.1 401.8 1766.6 401.7C1768.1 401.6 1774.4 399.6 1776.2 398.3C1778.0 397.0 1785.0 388.6 1786.8 387.7C1788.6 386.8 1794.3 388.4 1796.4 388.3C1798.5 388.2 1807.8 384.4 1810.2 386.2C1812.6 388.0 1836.6 417.6 1837.9 419.1C1839.2 420.6 1843.4 424.0 1845.3 424.5C1847.2 425.0 1859.3 424.7 1862.3 426.0C1865.3 427.3 1876.9 438.5 1878.3 439.4C1879.7 440.3 1884.2 441.2 1885.7 441.0C1887.2 440.8 1893.7 438.7 1895.3 437.7C1896.9 436.7 1902.2 432.1 1903.8 430.2C1905.4 428.3 1913.4 416.6 1914.5 415.3C1915.6 414.0 1919.2 410.8 1920.9 410.2C1922.6 409.6 1935.1 408.7 1936.8 407.9C1938.5 407.1 1941.5 401.9 1941.5 400.4C1941.5 398.9 1938.1 392.9 1936.8 391.5C1935.5 390.1 1927.6 385.7 1927.2 384.5C1926.8 383.3 1931.0 379.4 1932.6 378.7C1934.2 378.0 1946.8 375.4 1948.5 375.5C1950.2 375.6 1953.5 378.8 1954.9 379.8C1956.3 380.8 1963.7 387.1 1965.5 387.7C1967.3 388.3 1973.6 386.8 1975.0 386.2C1976.4 385.6 1980.3 382.2 1981.5 380.9C1982.7 379.6 1989.7 370.1 1990.6 369.1C1991.5 368.1 1996.0 366.0 1996.0 366.0C1996.0 366.0 2310.0 366.0 2310.0 366.0C2310.0 366.0 2314.0 518.0 2314.0 518.0C2314.0 518.0 2328.3 517.6 2329.6 517.7C2330.9 517.8 2334.0 519.4 2335.0 520.2C2336.0 521.0 2348.7 534.1 2350.9 535.7C2353.1 537.3 2360.0 539.4 2362.6 539.8C2365.2 540.2 2387.2 541.2 2389.0 541.5C2390.8 541.8 2396.2 543.6 2396.6 545.1C2397.0 546.6 2393.9 555.9 2393.4 558.5C2392.9 561.1 2391.4 573.4 2391.3 574.5C2391.2 575.6 2391.6 579.1 2391.3 579.8C2391.0 580.5 2388.8 581.7 2388.0 581.9C2387.2 582.1 2379.1 583.2 2377.4 584.0C2375.7 584.8 2370.1 588.4 2369.0 590.4C2367.9 592.4 2363.6 607.0 2362.6 609.6C2361.6 612.2 2357.7 619.5 2357.2 621.3C2356.7 623.1 2356.9 628.8 2356.6 629.8C2356.3 630.8 2354.7 633.2 2354.0 634.0C2353.3 634.8 2347.5 641.3 2345.5 642.1C2343.5 642.9 2334.2 642.3 2331.7 642.6C2329.2 642.9 2319.5 644.9 2317.9 645.1C2316.3 645.3 2311.2 645.2 2310.4 644.7C2309.6 644.2 2309.8 640.5 2309.4 639.4C2309.0 638.3 2304.4 626.6 2304.0 625.5C2303.6 624.4 2303.7 621.1 2303.0 620.2C2302.3 619.3 2297.9 616.4 2296.6 616.0C2295.2 615.6 2289.5 614.9 2288.0 616.0C2286.5 617.1 2275.6 631.8 2274.3 633.0C2273.0 634.2 2267.2 634.8 2266.8 636.2C2266.4 637.6 2269.9 647.7 2270.0 648.9C2270.1 650.1 2270.1 654.0 2269.0 654.3C2267.9 654.6 2253.7 654.5 2250.9 654.7C2248.1 654.9 2240.1 656.5 2238.0 656.4C2235.9 656.3 2229.6 654.2 2227.4 653.2C2225.2 652.2 2212.9 644.5 2211.5 643.6C2210.1 642.7 2206.6 640.0 2205.0 639.4C2203.4 638.8 2175.7 630.3 2173.2 629.8C2170.7 629.3 2162.6 628.1 2161.5 629.8C2160.4 631.5 2161.3 645.8 2161.5 648.9C2161.7 652.0 2163.3 662.6 2163.6 663.8C2163.9 665.0 2165.6 668.0 2165.7 669.1C2165.8 670.2 2165.6 674.5 2164.7 675.5C2163.8 676.5 2157.6 678.8 2156.2 679.8C2154.8 680.8 2150.0 685.5 2148.7 686.2C2147.4 686.9 2142.1 686.6 2141.3 687.2C2140.5 687.8 2141.0 691.9 2140.2 692.6C2139.4 693.3 2134.2 694.7 2132.8 694.7C2131.4 694.7 2125.7 693.3 2124.3 692.6C2122.9 691.9 2118.7 687.8 2116.8 687.2C2114.9 686.6 2105.9 687.0 2103.0 686.2C2100.1 685.4 2084.8 680.5 2081.7 677.7C2078.6 674.9 2069.9 657.4 2069.0 655.3C2068.1 653.2 2068.3 646.5 2067.9 644.7C2067.5 642.9 2065.9 635.6 2064.7 635.1C2063.5 634.6 2056.5 639.1 2055.0 639.4C2053.5 639.7 2048.6 639.0 2047.7 638.3C2046.8 637.6 2046.2 631.8 2045.5 631.9C2044.8 632.0 2041.1 639.1 2040.2 639.4C2039.3 639.7 2036.6 635.1 2036.0 635.1C2035.4 635.1 2033.5 638.3 2033.2 639.4C2032.9 640.5 2033.2 647.5 2032.8 648.9C2032.4 650.3 2030.0 654.6 2028.5 655.3C2027.0 656.0 2012.3 659.3 2011.3 659.6C2010.3 659.9 2007.0 660.9 2007.0 661.7C2007.0 662.5 2011.6 667.4 2011.3 668.1C2011.0 668.8 2005.2 669.4 2003.8 669.1C2002.4 668.8 1996.7 666.1 1995.3 664.9C1993.9 663.7 1988.0 656.8 1987.9 655.3C1987.8 653.8 1993.9 649.2 1994.3 647.9C1994.7 646.6 1993.4 641.3 1992.0 640.4C1990.6 639.5 1980.1 637.4 1978.3 637.2C1976.5 637.0 1971.2 638.7 1969.8 638.3C1968.4 637.9 1964.1 633.4 1962.8 632.4C1961.5 631.4 1957.2 627.4 1955.5 627.1C1953.8 626.8 1946.7 629.4 1944.3 629.2C1941.9 629.0 1930.0 624.7 1928.3 624.5C1926.6 624.3 1922.0 627.1 1920.9 626.6C1919.8 626.1 1917.7 620.4 1916.6 619.1C1915.5 617.8 1909.9 613.5 1909.0 611.7C1908.1 609.9 1908.0 599.7 1907.0 598.9C1906.0 598.1 1899.2 603.4 1897.4 603.2C1895.6 603.0 1888.1 597.4 1886.8 596.8C1885.5 596.2 1881.6 596.4 1880.4 595.7C1879.2 595.0 1874.5 589.8 1873.0 589.4C1871.5 589.0 1864.9 591.6 1863.4 591.5C1861.9 591.4 1856.6 589.0 1856.0 588.3C1855.4 587.6 1857.8 584.6 1857.0 584.0C1856.2 583.4 1848.2 581.5 1846.4 580.9C1844.6 580.3 1837.5 577.3 1836.8 577.7C1836.1 578.1 1838.8 583.7 1838.9 585.1C1839.0 586.5 1839.6 592.9 1837.9 593.2C1836.2 593.5 1818.3 589.5 1816.6 589.4C1814.9 589.3 1809.7 590.3 1809.1 591.0C1808.5 591.7 1810.7 595.8 1810.2 596.8C1809.7 597.8 1805.1 601.2 1803.8 601.7C1802.5 602.2 1796.6 603.0 1795.3 602.1C1794.0 601.2 1790.3 593.0 1789.0 592.0C1787.7 591.0 1781.8 591.3 1780.4 591.0C1779.1 590.7 1775.3 589.1 1774.0 588.3C1772.7 587.5 1762.5 580.0 1761.3 578.7C1760.1 577.4 1758.8 571.5 1758.0 571.3C1757.2 571.1 1752.9 575.5 1752.8 576.6C1752.7 577.7 1757.6 583.0 1757.0 584.0C1756.4 585.0 1747.1 586.4 1746.4 587.2C1745.7 588.0 1749.0 592.5 1749.0 592.5C1749.0 592.5 1747.2 588.2 1746.4 587.2C1745.6 586.2 1740.5 582.0 1739.0 580.9C1737.5 579.8 1730.8 575.6 1729.4 575.5C1728.1 575.4 1725.2 579.0 1724.0 579.8C1722.8 580.6 1718.2 583.2 1716.6 584.0C1715.0 584.8 1702.6 590.2 1700.6 591.5C1698.6 592.8 1694.2 598.1 1693.2 599.4C1692.2 600.7 1688.5 605.1 1689.0 605.8C1689.5 606.5 1697.1 606.6 1698.5 607.4C1699.9 608.2 1705.2 613.6 1704.4 615.0C1703.6 616.4 1691.8 621.7 1690.0 623.4C1688.2 625.1 1685.7 632.7 1684.7 634.0C1683.7 635.3 1679.9 638.3 1678.3 637.9C1676.7 637.5 1667.0 630.6 1664.5 629.3C1662.0 628.0 1652.8 624.0 1650.6 624.0C1648.4 624.0 1642.6 629.3 1640.0 629.3C1637.4 629.3 1595.1 624.6 1592.0 623.5C1588.9 622.4 1604.4 618.0 1606.0 617.0C1607.6 616.0 1612.0 611.3 1612.0 610.6C1612.0 609.9 1606.8 609.6 1606.0 609.0C1605.2 608.4 1603.2 605.5 1602.8 604.3C1602.4 603.1 1601.0 594.0 1599.6 591.5C1598.2 589.0 1586.2 575.2 1585.7 573.4C1585.2 571.6 1593.3 571.6 1594.3 571.3C1595.3 571.0 1598.2 570.1 1598.5 569.1C1598.8 568.1 1600.2 552.4 1600.6 548.9C1601.0 545.4 1602.7 531.4 1602.8 529.8C1602.9 528.2 1603.0 522.6 1601.7 522.3C1600.4 522.0 1588.8 525.9 1587.9 526.0C1587.0 526.1 1585.5 523.7 1584.7 523.4C1583.9 523.1 1580.2 522.9 1579.4 522.3C1578.6 521.7 1576.9 518.0 1576.2 517.0C1575.5 516.0 1572.8 512.1 1572.0 511.7C1571.2 511.3 1568.5 512.7 1567.7 512.8C1566.9 512.9 1563.4 513.6 1563.0 512.8C1562.6 512.0 1563.7 505.9 1563.4 504.3C1563.1 502.7 1561.1 496.4 1560.2 494.7C1559.3 493.0 1554.0 486.0 1553.8 485.1Z"/>
<g fill="none" stroke="#fff" stroke-width="7.3" stroke-linejoin="round" stroke-linecap="round">
<path d="M629.8 795.6C631.2 795.2 642.4 791.4 644.9 790.8C647.4 790.2 656.6 789.5 657.7 789.2C658.8 788.9 660.8 785.9 661.5 785.7C662.2 785.5 664.7 786.6 665.5 787.0C666.3 787.4 680.2 795.0 683.2 795.1C686.2 795.2 696.2 789.2 699.0 788.3C701.8 787.4 712.4 785.6 714.0 784.7C715.6 783.8 717.1 778.7 718.3 777.7C719.5 776.7 725.7 774.4 726.8 773.4C727.9 772.4 729.2 767.9 730.0 767.0C730.8 766.1 734.5 764.8 735.3 763.8C736.1 762.8 745.6 747.4 746.0 746.8C746.4 746.2 747.3 744.0 748.0 744.0C748.7 744.0 753.4 746.0 754.5 746.8C755.6 747.6 759.1 751.9 759.8 753.2C760.5 754.5 762.3 759.9 762.0 761.7C761.7 763.5 757.3 772.1 756.6 773.4C755.9 774.7 753.2 778.0 752.3 778.7C751.4 779.4 747.8 779.9 747.0 780.9C746.2 781.9 744.6 788.4 743.8 789.4C743.0 790.4 739.1 791.7 738.5 792.5C737.9 793.3 736.7 796.9 737.4 797.9C738.1 798.9 753.8 813.8 754.5 814.9C755.2 816.0 750.8 817.9 750.0 819.0C749.2 820.1 742.1 831.8 741.7 833.0C741.3 834.2 742.8 837.7 743.8 838.3C744.8 838.9 750.8 838.6 752.3 839.4C753.8 840.2 759.5 846.0 760.9 846.8C762.3 847.6 767.8 847.3 768.3 847.9C768.8 848.5 766.5 852.0 767.0 853.0C767.5 854.0 775.4 861.7 776.8 863.8C778.2 865.9 782.2 875.6 783.0 876.6C783.8 877.6 787.6 877.8 788.5 878.7C789.4 879.6 793.9 884.9 793.8 887.0C793.7 889.1 787.7 900.5 787.4 902.0C787.1 903.5 788.6 907.4 789.6 908.5C790.6 909.6 804.7 919.9 805.5 921.8C806.3 923.7 799.9 928.2 799.0 929.8C798.1 931.4 794.9 938.0 795.0 939.4C795.1 940.8 799.0 944.9 800.0 945.7C801.0 946.5 806.1 946.9 806.6 947.9C807.1 948.9 805.1 955.4 805.5 956.4C805.9 957.4 810.2 957.7 810.9 958.5C811.6 959.3 813.0 963.4 813.0 964.9C813.0 966.4 813.1 992.5 812.0 1000.0C810.9 1007.5 801.8 1043.4 800.0 1050.0C798.2 1056.6 790.9 1077.3 790.0 1080.0"/>
<path d="M756.5 678.0C756.5 678.8 755.6 685.6 756.0 686.6C756.4 687.6 759.8 689.1 760.8 689.5C761.8 689.9 765.9 691.1 766.8 691.1C767.7 691.1 770.6 689.6 771.3 689.1C772.0 688.6 773.7 685.3 774.5 685.3C775.3 685.3 779.2 688.5 780.2 689.1C781.2 689.7 784.3 691.8 785.3 692.3C786.3 692.8 790.1 693.6 791.1 694.3C792.1 695.0 796.1 699.5 796.8 700.6C797.5 701.7 799.6 705.8 799.4 707.0C799.2 708.2 795.6 712.7 794.9 714.0C794.2 715.3 791.1 720.2 791.1 721.1C791.1 722.0 794.4 722.8 794.9 723.6C795.4 724.4 796.1 728.9 796.8 730.0C797.5 731.1 801.6 734.4 802.6 735.7C803.6 737.0 806.9 742.0 807.7 744.0C808.5 746.0 810.2 757.7 811.5 758.1C812.8 758.5 821.0 749.0 822.4 748.5C823.8 748.0 827.2 751.7 828.7 751.7C830.2 751.7 837.9 749.5 838.9 748.1C839.9 746.7 839.5 737.2 840.2 736.4C840.9 735.6 845.1 739.9 846.6 739.6C848.1 739.3 864.4 731.6 865.8 731.3C867.2 731.0 871.1 732.8 872.1 733.8C873.1 734.8 876.1 741.6 877.2 742.8C878.3 744.0 882.8 746.3 884.3 746.8C885.8 747.3 892.1 748.5 893.8 748.5C895.5 748.5 902.6 747.1 903.4 746.8C904.2 746.5 904.8 743.2 905.5 743.6C906.2 744.0 911.8 751.4 913.0 752.1C914.2 752.8 918.3 750.6 919.4 751.1C920.5 751.6 923.0 756.8 924.7 757.4C926.4 758.0 953.7 763.2 956.6 763.8"/>
<path d="M956.6 763.8C956.7 764.3 958.7 768.5 957.7 769.1C956.7 769.7 939.4 776.4 937.4 776.6C935.4 776.8 930.2 770.7 928.9 772.3C927.6 773.9 919.2 798.1 918.3 800.0C917.4 801.9 910.9 806.0 911.9 807.4C912.9 808.8 925.6 813.5 928.9 816.0C932.2 818.5 948.0 833.6 949.1 836.2C950.2 838.8 943.1 844.4 941.7 846.8C940.3 849.2 921.5 883.3 920.4 885.1C919.3 886.9 914.7 890.6 914.0 892.6C913.3 894.6 911.1 909.9 910.9 910.6C910.7 911.3 908.3 912.7 908.7 913.3C909.1 913.9 917.8 921.1 918.3 922.8C918.8 924.5 914.5 930.7 914.0 932.4C913.5 934.1 912.2 939.8 913.0 941.5C913.8 943.2 921.9 949.5 922.6 951.0C923.3 952.5 922.5 957.2 921.5 958.5C920.5 959.8 913.4 965.7 911.9 966.0C910.4 966.3 905.7 961.8 904.5 961.7C903.3 961.6 899.1 963.8 899.0 964.9C898.9 966.0 903.4 971.9 903.4 973.4C903.4 974.9 900.7 980.9 899.0 981.9C897.3 982.9 884.2 982.2 884.3 984.0C884.4 985.8 899.0 999.8 900.0 1002.0C901.0 1004.2 896.9 1011.2 897.0 1012.8C897.1 1014.4 900.0 1019.6 901.3 1020.2C902.6 1020.8 909.9 1018.4 910.9 1019.0C911.9 1019.6 911.0 1025.6 911.9 1026.6C912.8 1027.6 919.7 1028.2 920.4 1029.8C921.1 1031.4 919.9 1041.8 920.0 1044.7C920.1 1047.6 922.0 1059.0 922.0 1061.7C922.0 1064.4 920.7 1071.7 920.4 1074.5C920.1 1077.3 919.0 1091.8 918.0 1095.0C917.0 1098.2 911.5 1107.4 909.8 1109.6C908.1 1111.8 900.2 1117.0 899.0 1119.0C897.8 1121.0 897.3 1130.0 896.0 1132.0C894.7 1134.0 885.8 1140.5 884.3 1141.5C882.8 1142.5 877.8 1143.8 876.8 1144.7C875.8 1145.6 874.2 1149.6 873.6 1151.0C873.0 1152.4 870.8 1159.7 870.5 1160.6"/>
<path d="M956.6 763.8C957.2 763.2 962.0 758.1 963.0 757.4C964.0 756.7 967.7 756.4 968.3 755.3C968.9 754.2 969.9 747.5 969.4 745.7C968.9 743.9 963.8 737.3 963.0 735.1C962.2 732.9 960.7 722.8 960.9 721.3C961.1 719.8 964.0 716.4 965.1 716.0C966.2 715.6 972.9 716.4 973.6 717.0C974.3 717.6 971.5 721.8 972.6 722.3C973.7 722.8 994.6 726.7 997.0 727.7C999.4 728.7 1004.2 734.4 1005.5 736.2C1006.8 738.0 1009.7 746.0 1011.9 747.9C1014.1 749.8 1029.0 756.9 1031.1 758.5C1033.2 760.1 1038.4 766.1 1038.5 768.1C1038.6 770.1 1032.5 779.1 1032.1 780.9C1031.7 782.7 1032.5 788.3 1033.2 789.4C1033.9 790.5 1038.3 791.7 1039.6 792.6C1040.9 793.5 1049.7 799.7 1051.3 802.1C1052.9 804.5 1056.5 817.6 1057.7 819.1C1058.9 820.6 1065.1 821.3 1066.2 821.3C1067.3 821.3 1070.1 819.0 1071.0 819.1C1071.9 819.2 1075.2 822.9 1076.4 822.3C1077.6 821.7 1090.6 809.9 1094.0 807.4C1097.4 804.9 1112.5 795.8 1114.3 794.7"/>
<path d="M1075.0 405.0C1075.9 409.1 1082.0 442.8 1085.0 450.0C1088.0 457.2 1105.7 482.1 1107.9 484.7C1110.1 487.3 1119.4 491.4 1121.7 492.6C1124.0 493.8 1131.7 496.8 1133.4 497.9C1135.1 499.0 1140.0 503.0 1140.9 504.3C1141.8 505.6 1142.5 511.3 1143.0 512.8C1143.5 514.3 1146.8 519.5 1146.2 521.3C1145.6 523.1 1136.7 531.7 1136.6 533.0C1136.5 534.3 1143.8 535.1 1145.0 536.2C1146.2 537.3 1150.1 542.6 1150.4 544.7C1150.7 546.8 1150.2 561.1 1149.4 563.8C1148.6 566.5 1143.1 573.1 1141.9 574.5C1140.7 575.9 1137.0 579.0 1135.5 579.8C1134.0 580.6 1126.4 581.8 1124.9 583.0C1123.4 584.2 1120.0 591.2 1118.5 592.6C1117.0 594.0 1108.6 597.8 1107.9 598.9C1107.2 600.0 1109.7 604.5 1111.0 605.3C1112.3 606.1 1121.5 608.8 1123.8 608.5C1126.1 608.2 1135.0 603.0 1136.6 601.7C1138.2 600.4 1141.4 594.1 1141.9 593.6C1142.4 593.1 1144.4 592.2 1145.0 592.6C1145.6 593.0 1147.0 597.7 1148.3 597.9C1149.6 598.1 1158.2 594.6 1161.0 594.7C1163.8 594.8 1178.7 597.6 1181.3 598.9C1183.9 600.2 1189.7 607.2 1189.8 609.0C1189.9 610.8 1183.3 616.5 1182.9 618.6C1182.5 620.7 1185.5 629.8 1185.5 632.4C1185.5 635.0 1182.7 645.6 1183.4 647.9C1184.1 650.1 1191.4 656.2 1193.0 657.4C1194.6 658.6 1200.2 660.6 1201.5 661.7C1202.8 662.8 1207.4 668.0 1207.9 669.1C1208.4 670.2 1206.4 673.4 1206.8 674.5C1207.2 675.6 1211.7 682.9 1213.2 685.1C1214.7 687.3 1222.8 697.7 1223.8 698.9"/>
<path d="M1223.8 698.9C1225.3 698.1 1239.0 690.5 1240.9 690.4C1242.8 690.3 1243.3 697.4 1245.1 697.9C1246.9 698.4 1274.5 700.6 1277.0 700.0C1279.5 699.4 1281.7 691.1 1282.3 689.4C1282.9 687.7 1284.0 682.5 1283.4 680.9C1282.8 679.3 1276.4 672.9 1276.0 671.3C1275.6 669.7 1279.0 664.5 1279.1 662.8C1279.2 661.1 1276.4 653.5 1277.0 652.1C1277.6 650.7 1284.3 648.0 1285.5 646.8C1286.7 645.6 1288.2 639.0 1289.8 638.3C1291.4 637.6 1300.6 639.0 1303.6 638.7C1306.6 638.4 1356.1 630.9 1357.9 630.9C1359.7 630.9 1362.9 635.7 1363.2 637.2C1363.5 638.7 1359.8 647.2 1361.0 647.9C1362.2 648.6 1375.2 645.9 1377.0 644.7C1378.8 643.5 1380.0 636.6 1381.3 635.1C1382.6 633.6 1390.0 629.5 1391.9 627.7C1393.8 625.9 1399.2 616.0 1402.6 614.9C1406.0 613.8 1450.6 606.8 1455.7 606.4C1460.8 606.0 1474.7 608.2 1479.0 609.3C1483.3 610.4 1500.9 617.5 1503.2 618.5C1505.5 619.5 1510.7 624.4 1513.2 624.5C1515.7 624.6 1530.3 620.4 1534.5 620.2C1538.7 620.0 1556.5 622.0 1560.0 622.3C1563.5 622.6 1573.9 623.8 1576.2 623.6C1578.5 623.4 1584.9 619.6 1586.3 619.6C1587.7 619.6 1591.5 623.1 1592.0 623.5"/>
<path d="M1223.8 698.9C1223.6 699.6 1222.3 704.8 1221.7 706.4C1221.1 708.0 1215.6 720.9 1214.3 722.3C1213.0 723.7 1207.0 723.1 1205.7 724.5C1204.4 725.9 1196.3 741.7 1195.0 743.6C1193.7 745.5 1188.3 750.1 1187.7 751.1C1187.1 752.1 1188.8 756.3 1187.7 756.4C1186.6 756.5 1170.7 750.6 1167.4 752.1C1164.1 753.6 1152.6 771.4 1151.5 773.4C1150.4 775.4 1151.5 783.1 1149.4 784.0C1147.3 784.9 1118.9 787.9 1117.4 788.3C1115.9 788.7 1114.6 794.1 1114.3 794.7"/>
<path d="M1114.3 794.7C1115.0 795.7 1121.7 803.3 1121.7 805.3C1121.7 807.3 1113.7 815.9 1114.3 817.0C1114.9 818.1 1126.6 816.5 1128.0 817.0C1129.4 817.5 1129.9 822.1 1130.2 823.4C1130.5 824.7 1131.6 830.5 1131.3 831.9C1131.0 833.3 1126.9 837.7 1127.0 839.4C1127.1 841.1 1131.9 849.4 1132.3 851.0C1132.7 852.6 1131.7 857.1 1132.3 858.5C1132.9 859.9 1137.9 865.2 1138.7 867.0C1139.5 868.8 1141.3 876.7 1140.9 878.7C1140.5 880.7 1135.7 887.6 1134.5 889.4C1133.3 891.2 1128.2 897.5 1128.0 898.9C1127.8 900.3 1131.0 905.7 1132.3 905.3C1133.6 904.9 1139.0 895.9 1141.9 894.7C1144.8 893.5 1173.9 888.2 1176.0 887.2C1178.1 886.2 1177.7 878.6 1179.0 876.6C1180.3 874.6 1192.3 859.2 1195.0 859.0C1197.7 858.8 1207.0 872.4 1209.0 874.5C1211.0 876.6 1217.1 881.5 1218.5 884.0C1219.9 886.5 1229.3 908.2 1230.0 911.7C1230.7 915.2 1228.0 925.4 1227.0 927.7C1226.0 930.0 1219.2 936.2 1218.5 937.2C1217.8 938.2 1216.1 941.9 1216.4 942.6C1216.7 943.3 1221.6 944.4 1221.7 945.1C1221.8 945.8 1217.3 948.7 1217.4 950.0C1217.5 951.3 1223.0 958.0 1222.8 959.6C1222.6 961.2 1215.9 966.5 1215.3 968.0C1214.7 969.5 1215.8 975.6 1216.4 976.6C1217.0 977.6 1220.8 978.9 1221.7 978.7C1222.6 978.5 1224.7 974.3 1226.0 974.5C1227.3 974.7 1237.0 981.2 1238.7 981.9C1240.4 982.6 1245.7 982.7 1247.2 982.6C1248.7 982.5 1254.7 981.6 1255.7 980.9C1256.7 980.2 1256.8 975.4 1257.9 974.5C1259.0 973.6 1268.1 969.9 1270.6 969.1C1273.1 968.3 1283.3 967.0 1285.5 966.0C1287.7 965.0 1293.7 958.4 1295.0 958.5C1296.3 958.6 1300.3 965.2 1300.4 967.0C1300.5 968.8 1296.4 976.5 1296.2 978.7C1296.0 980.9 1298.5 989.6 1298.3 991.5C1298.1 993.4 1295.1 998.7 1294.0 1000.0C1292.9 1001.3 1287.7 1005.0 1286.6 1006.4C1285.5 1007.8 1282.7 1014.5 1282.3 1016.0C1281.9 1017.5 1282.3 1022.7 1282.3 1023.4"/>
<path d="M1553.8 485.1C1554.4 486.0 1559.3 493.0 1560.2 494.7C1561.1 496.4 1563.1 502.7 1563.4 504.3C1563.7 505.9 1562.6 512.0 1563.0 512.8C1563.4 513.6 1566.9 512.9 1567.7 512.8C1568.5 512.7 1571.2 511.3 1572.0 511.7C1572.8 512.1 1575.5 516.0 1576.2 517.0C1576.9 518.0 1578.6 521.7 1579.4 522.3C1580.2 522.9 1583.9 523.1 1584.7 523.4C1585.5 523.7 1587.0 526.1 1587.9 526.0C1588.8 525.9 1600.4 522.0 1601.7 522.3C1603.0 522.6 1602.9 528.2 1602.8 529.8C1602.7 531.4 1601.0 545.4 1600.6 548.9C1600.2 552.4 1598.8 568.1 1598.5 569.1C1598.2 570.1 1595.3 571.0 1594.3 571.3C1593.3 571.6 1585.2 571.6 1585.7 573.4C1586.2 575.2 1598.2 589.0 1599.6 591.5C1601.0 594.0 1602.4 603.1 1602.8 604.3C1603.2 605.5 1605.2 608.4 1606.0 609.0C1606.8 609.6 1612.0 609.9 1612.0 610.6C1612.0 611.3 1607.6 616.0 1606.0 617.0C1604.4 618.0 1593.3 622.9 1592.0 623.5"/>
<path d="M1592.0 623.5C1596.3 624.0 1637.4 629.3 1640.0 629.3C1642.6 629.3 1648.4 624.0 1650.6 624.0C1652.8 624.0 1662.0 628.0 1664.5 629.3C1667.0 630.6 1677.1 637.1 1678.3 637.9"/>
<path d="M1678.3 637.9C1677.8 638.3 1673.9 641.4 1673.0 642.6C1672.1 643.8 1659.2 663.0 1658.0 666.0C1656.8 669.0 1657.9 679.5 1658.0 680.9C1658.1 682.3 1659.5 685.9 1659.0 687.2C1658.5 688.5 1652.2 694.9 1651.7 696.8C1651.2 698.7 1653.2 707.2 1653.8 708.5C1654.4 709.8 1657.8 711.9 1659.0 712.8C1660.2 713.7 1674.9 723.4 1677.2 726.6C1679.5 729.8 1683.9 746.4 1684.7 748.9C1685.5 751.4 1687.2 759.1 1687.9 760.6C1688.6 762.1 1691.8 765.2 1693.2 766.0C1694.6 766.8 1704.1 768.9 1705.0 770.2C1705.9 771.5 1703.4 779.2 1702.8 780.9C1702.2 782.6 1699.2 787.5 1698.5 789.4C1697.8 791.3 1696.0 800.2 1695.3 802.1C1694.6 804.0 1691.3 808.9 1691.0 810.6C1690.7 812.3 1691.8 820.1 1692.0 821.3C1692.2 822.5 1692.5 825.6 1693.2 826.6C1693.9 827.6 1698.9 830.9 1699.6 831.9C1700.3 832.9 1699.5 837.0 1700.6 837.2C1701.7 837.4 1718.9 836.5 1720.9 836.2C1722.9 835.9 1727.8 832.6 1729.4 832.3C1731.0 832.0 1738.1 832.9 1739.0 833.0"/>
<path d="M1678.3 637.9C1678.9 637.5 1683.7 635.3 1684.7 634.0C1685.7 632.7 1688.2 625.1 1690.0 623.4C1691.8 621.7 1703.6 616.4 1704.4 615.0C1705.2 613.6 1699.9 608.2 1698.5 607.4C1697.1 606.6 1689.5 606.5 1689.0 605.8C1688.5 605.1 1692.2 600.7 1693.2 599.4C1694.2 598.1 1698.6 592.8 1700.6 591.5C1702.6 590.2 1715.0 584.8 1716.6 584.0C1718.2 583.2 1722.8 580.6 1724.0 579.8C1725.2 579.0 1728.1 575.4 1729.4 575.5C1730.8 575.6 1737.5 579.8 1739.0 580.9C1740.5 582.0 1745.6 586.2 1746.4 587.2C1747.2 588.2 1749.0 592.5 1749.0 592.5C1749.0 592.5 1745.7 588.0 1746.4 587.2C1747.1 586.4 1756.4 585.0 1757.0 584.0C1757.6 583.0 1752.7 577.7 1752.8 576.6C1752.9 575.5 1757.2 571.1 1758.0 571.3C1758.8 571.5 1760.1 577.4 1761.3 578.7C1762.5 580.0 1772.7 587.5 1774.0 588.3C1775.3 589.1 1779.1 590.7 1780.4 591.0C1781.8 591.3 1787.7 591.0 1789.0 592.0C1790.3 593.0 1794.0 601.2 1795.3 602.1C1796.6 603.0 1802.5 602.2 1803.8 601.7C1805.1 601.2 1809.7 597.8 1810.2 596.8C1810.7 595.8 1808.5 591.7 1809.1 591.0C1809.7 590.3 1814.9 589.3 1816.6 589.4C1818.3 589.5 1836.2 593.5 1837.9 593.2C1839.6 592.9 1839.0 586.5 1838.9 585.1C1838.8 583.7 1836.1 578.1 1836.8 577.7C1837.5 577.3 1844.6 580.3 1846.4 580.9C1848.2 581.5 1856.2 583.4 1857.0 584.0C1857.8 584.6 1855.4 587.6 1856.0 588.3C1856.6 589.0 1861.9 591.4 1863.4 591.5C1864.9 591.6 1871.5 589.0 1873.0 589.4C1874.5 589.8 1879.2 595.0 1880.4 595.7C1881.6 596.4 1885.5 596.2 1886.8 596.8C1888.1 597.4 1895.6 603.0 1897.4 603.2C1899.2 603.4 1906.0 598.1 1907.0 598.9C1908.0 599.7 1908.1 609.9 1909.0 611.7C1909.9 613.5 1915.5 617.8 1916.6 619.1C1917.7 620.4 1919.8 626.1 1920.9 626.6C1922.0 627.1 1926.6 624.3 1928.3 624.5C1930.0 624.7 1941.9 629.0 1944.3 629.2C1946.7 629.4 1953.8 626.8 1955.5 627.1C1957.2 627.4 1961.5 631.4 1962.8 632.4C1964.1 633.4 1968.4 637.9 1969.8 638.3C1971.2 638.7 1976.5 637.0 1978.3 637.2C1980.1 637.4 1990.6 639.5 1992.0 640.4C1993.4 641.3 1994.7 646.6 1994.3 647.9C1993.9 649.2 1987.8 653.8 1987.9 655.3C1988.0 656.8 1993.9 663.7 1995.3 664.9C1996.7 666.1 2002.4 668.8 2003.8 669.1C2005.2 669.4 2011.0 668.8 2011.3 668.1C2011.6 667.4 2007.0 662.5 2007.0 661.7C2007.0 660.9 2010.3 659.9 2011.3 659.6C2012.3 659.3 2027.0 656.0 2028.5 655.3C2030.0 654.6 2032.4 650.3 2032.8 648.9C2033.2 647.5 2032.9 640.5 2033.2 639.4C2033.5 638.3 2035.4 635.1 2036.0 635.1C2036.6 635.1 2039.3 639.7 2040.2 639.4C2041.1 639.1 2044.8 632.0 2045.5 631.9C2046.2 631.8 2046.8 637.6 2047.7 638.3C2048.6 639.0 2053.5 639.7 2055.0 639.4C2056.5 639.1 2063.5 634.6 2064.7 635.1C2065.9 635.6 2067.5 642.9 2067.9 644.7C2068.3 646.5 2068.1 653.2 2069.0 655.3C2069.9 657.4 2078.6 674.9 2081.7 677.7C2084.8 680.5 2100.1 685.4 2103.0 686.2C2105.9 687.0 2114.9 686.6 2116.8 687.2C2118.7 687.8 2122.9 691.9 2124.3 692.6C2125.7 693.3 2131.4 694.7 2132.8 694.7C2134.2 694.7 2139.4 693.3 2140.2 692.6C2141.0 691.9 2140.5 687.8 2141.3 687.2C2142.1 686.6 2147.4 686.9 2148.7 686.2C2150.0 685.5 2154.8 680.8 2156.2 679.8C2157.6 678.8 2163.8 676.5 2164.7 675.5C2165.6 674.5 2165.8 670.2 2165.7 669.1C2165.6 668.0 2163.9 665.0 2163.6 663.8C2163.3 662.6 2161.7 652.0 2161.5 648.9C2161.3 645.8 2160.4 631.5 2161.5 629.8C2162.6 628.1 2170.7 629.3 2173.2 629.8C2175.7 630.3 2203.4 638.8 2205.0 639.4C2206.6 640.0 2210.1 642.7 2211.5 643.6C2212.9 644.5 2225.2 652.2 2227.4 653.2C2229.6 654.2 2235.9 656.3 2238.0 656.4C2240.1 656.5 2248.1 654.9 2250.9 654.7C2253.7 654.5 2267.9 654.6 2269.0 654.3C2270.1 654.0 2270.1 650.1 2270.0 648.9C2269.9 647.7 2266.4 637.6 2266.8 636.2C2267.2 634.8 2273.0 634.2 2274.3 633.0C2275.6 631.8 2286.5 617.1 2288.0 616.0C2289.5 614.9 2295.2 615.6 2296.6 616.0C2297.9 616.4 2302.3 619.3 2303.0 620.2C2303.7 621.1 2303.6 624.4 2304.0 625.5C2304.4 626.6 2309.0 638.3 2309.4 639.4C2309.8 640.5 2309.6 644.2 2310.4 644.7C2311.2 645.2 2316.3 645.3 2317.9 645.1C2319.5 644.9 2329.2 642.9 2331.7 642.6C2334.2 642.3 2344.3 642.1 2345.5 642.1"/>
</g></g>
<path d="M815.80 306.20H1155.40V482.30H1034.50V537.30L993.00 482.30H815.80Z" fill="#fff" stroke="#000" stroke-width="3.20" stroke-linejoin="round"/>
<polygon fill="#b5130a" points="844.7,319.0 866.8,356.0 851.0,356.0 851.0,464.9 838.4,464.9 838.4,356.0 822.6,356.0"/>
<path fill="#b5130a" d="M897.90 379.70V361.50A18.20 18.20 0 1 0 916.10 379.70ZM902.00 376.00V357.80A18.20 18.20 0 0 1 920.20 376.00Z"/>
<use href="#ppl" transform="translate(877.50 422.90) scale(1.0000)"/>
<path d="M506.50 507.50H828.70V683.70H725.20V738.70L683.70 683.70H506.50Z" fill="#fff" stroke="#000" stroke-width="3.20" stroke-linejoin="round"/>
<polygon fill="#b5130a" points="535.4,521.2 557.5,558.2 541.7,558.2 541.7,667.1 529.1,667.1 529.1,558.2 513.3,558.2"/>
<path fill="#b5130a" d="M588.60 584.10V565.90A18.20 18.20 0 1 0 606.80 584.10ZM592.70 580.40V562.20A18.20 18.20 0 0 1 610.90 580.40Z"/>
<use href="#ppl" transform="translate(568.20 627.30) scale(1.0000)"/>
<path d="M1249.20 273.40H1571.40V449.60H1467.90V504.60L1426.40 449.60H1249.20Z" fill="#fff" stroke="#000" stroke-width="3.20" stroke-linejoin="round"/>
<polygon fill="#008fc9" points="1278.1,432.9 1300.2,395.9 1284.4,395.9 1284.4,287.1 1271.8,287.1 1271.8,395.9 1256.0,395.9"/>
<path fill="#b5130a" d="M1331.30 349.40V331.20A18.20 18.20 0 1 0 1349.50 349.40ZM1335.40 345.70V327.50A18.20 18.20 0 0 1 1353.60 345.70Z"/>
<use href="#ppl" transform="translate(1310.90 392.60) scale(1.0000)"/>
<path d="M1991.60 361.40H2313.70V537.70H2210.30V592.70L2168.80 537.70H1991.60Z" fill="#fff" stroke="#000" stroke-width="3.20" stroke-linejoin="round"/>
<polygon fill="#b5130a" points="2020.5,374.6 2042.6,411.6 2026.8,411.6 2026.8,520.5 2014.2,520.5 2014.2,411.6 1998.4,411.6"/>
<path fill="#b5130a" d="M2073.70 437.70V419.50A18.20 18.20 0 1 0 2091.90 437.70ZM2077.80 434.00V415.80A18.20 18.20 0 0 1 2096.00 434.00Z"/>
<use href="#ppl" transform="translate(2053.30 480.90) scale(1.0000)"/>
<path d="M1249.20 724.20H1659.00V900.30H1249.20Z" fill="#fff" stroke="#000" stroke-width="3.20" stroke-linejoin="round"/>
<polygon fill="#008fc9" points="1278.1,883.4 1300.2,846.4 1284.4,846.4 1284.4,737.6 1271.8,737.6 1271.8,846.4 1256.0,846.4"/>
<path fill="#b5130a" d="M1331.30 800.70V782.50A18.20 18.20 0 1 0 1349.50 800.70ZM1335.40 797.00V778.80A18.20 18.20 0 0 1 1353.60 797.00Z"/>
<use href="#ppl" transform="translate(1310.90 843.90) scale(1.0000)"/>
<path d="M1838.40 767.40H2015.60L2057.10 712.40V767.40H2160.40V943.70H1838.40Z" fill="#fff" stroke="#000" stroke-width="3.20" stroke-linejoin="round"/>
<polygon fill="#b5130a" points="1867.3,781.1 1889.4,818.1 1873.6,818.1 1873.6,927.0 1861.0,927.0 1861.0,818.1 1845.2,818.1"/>
<path fill="#b5130a" d="M1920.50 844.20V826.00A18.20 18.20 0 1 0 1938.70 844.20ZM1924.60 840.50V822.30A18.20 18.20 0 0 1 1942.80 840.50Z"/>
<use href="#ppl" transform="translate(1900.10 887.40) scale(1.0000)"/>
<path d="M506.50 966.20H683.70L725.20 911.20V966.20H843.90V1142.60H506.50Z" fill="#fff" stroke="#000" stroke-width="3.20" stroke-linejoin="round"/>
<polygon fill="#008fc9" points="535.4,1125.4 557.5,1088.4 541.7,1088.4 541.7,979.6 529.1,979.6 529.1,1088.4 513.3,1088.4"/>
<path fill="#b5130a" d="M588.60 1041.00V1022.80A18.20 18.20 0 1 0 606.80 1041.00ZM592.70 1037.30V1019.10A18.20 18.20 0 0 1 610.90 1037.30Z"/>
<use href="#ppl" transform="translate(568.20 1084.20) scale(1.0000)"/>
<path d="M911.40 1076.20H1088.60L1130.10 1021.20V1076.20H1233.90V1252.10H911.40Z" fill="#fff" stroke="#000" stroke-width="3.20" stroke-linejoin="round"/>
<polygon fill="#b5130a" points="940.3,1089.4 962.4,1126.4 946.6,1126.4 946.6,1235.3 934.0,1235.3 934.0,1126.4 918.2,1126.4"/>
<path fill="#b5130a" d="M993.50 1150.20V1132.00A18.20 18.20 0 1 0 1011.70 1150.20ZM997.60 1146.50V1128.30A18.20 18.20 0 0 1 1015.80 1146.50Z"/>
<use href="#ppl" transform="translate(973.10 1193.40) scale(1.0000)"/>
<path d="M1550.80 1059.90H1873.10V1236.30H1550.80Z" fill="#fff" stroke="#000" stroke-width="3.20" stroke-linejoin="round"/>
<polygon fill="#b5130a" points="1579.7,1073.6 1601.8,1110.6 1586.0,1110.6 1586.0,1219.5 1573.4,1219.5 1573.4,1110.6 1557.6,1110.6"/>
<path fill="#b5130a" d="M1632.90 1136.50V1118.30A18.20 18.20 0 1 0 1651.10 1136.50ZM1637.00 1132.80V1114.60A18.20 18.20 0 0 1 1655.20 1132.80Z"/>
<use href="#ppl" transform="translate(1612.50 1179.70) scale(1.0000)"/>
<rect x="505.9" y="1490.6" width="23.8" height="23.9" fill="#edb0ac"/>
<rect x="505.9" y="1542.9" width="23.8" height="23.9" fill="#e0817d"/>
<rect x="505.9" y="1595.3" width="23.8" height="23.9" fill="#cd4a44"/>
<rect x="505.9" y="1647.6" width="23.8" height="23.9" fill="#b7120a"/>
<path fill="#b5130a" d="M1564.90 1387.90V1368.70A19.20 19.20 0 1 0 1584.10 1387.90ZM1568.90 1383.80V1364.60A19.20 19.20 0 0 1 1588.10 1383.80Z"/>
<use href="#ppl" transform="translate(1545.70 1421.90) scale(1.0000)"/>
<polygon fill="#b5130a" points="1563.4,1470.6 1580.8,1499.6 1568.7,1499.6 1568.7,1516.6 1558.1,1516.6 1558.1,1499.6 1546.0,1499.6"/>
<polygon fill="#008fc9" points="1563.4,1572.0 1580.8,1543.0 1568.7,1543.0 1568.7,1526.0 1558.1,1526.0 1558.1,1543.0 1546.0,1543.0"/>
<g id="logo">
<clipPath id="shc"><path d="M2039 46.5H2120.7C2121.5 60 2122.5 80 2122.700 92.500C2123 112 2112 132 2079.900 152.200C2047.500 132 2036.800 112 2037.100 92.500C2037.300 80 2038.200 60 2039 46.500Z"/></clipPath>
<path fill="#e30a26" d="M2039 46.5H2120.7C2121.5 60 2122.5 80 2122.700 92.500C2123 112 2112 132 2079.900 152.200C2047.500 132 2036.800 112 2037.100 92.500C2037.300 80 2038.200 60 2039 46.500Z"/>
<path fill="#fff" d="M2073.2 50.2Q2079.9 51.6 2086.6 50.2C2084.5 57 2083.4 62 2083.4 66.600V112H2076V66.600C2076 62 2075 57 2073.200 50.200Z"/>
<path fill="#fff" d="M2058.2 64C2065 66.300 2070 66.600 2076 66.600H2083.400C2089.500 66.600 2095 66.300 2101.900 64Q2100.700 70.500 2101.900 77.100C2095 74.900 2089.500 74.600 2083.400 74.600H2076C2070 74.600 2065 74.900 2058.200 77.100Q2059.400 70.500 2058.200 64Z"/>
<path fill="#fff" d="M2053.4 83.2C2061 85.400 2068 85.700 2076 85.700H2083.400C2091.500 85.700 2098.500 85.400 2106.400 83.200Q2105.200 89.700 2106.400 96.300C2098.500 94 2091.500 93.700 2083.400 93.700H2076C2068 93.700 2061 94 2053.400 96.300Q2054.600 89.700 2053.400 83.200Z"/>
<path clip-path="url(#shc)" fill="#034ea2" d="M2036 132C2046 120 2051 115.900 2056.300 115.900C2061 115.900 2064.500 118.500 2066.500 120.800C2069 113.500 2074.500 109.700 2079.700 109.700C2085 109.700 2090.500 113.500 2093.300 120.800C2095.500 118.500 2098.500 115.900 2102.500 115.900C2108 115.900 2113 120 2124 132V156H2036Z"/>
<rect x="2147.5" y="46.500" width="4.2" height="50.3" fill="#d6dadb"/>
<rect x="2147.5" y="96.800" width="4.2" height="50.600" fill="#034ea2"/>
<rect x="2147.5" y="147.400" width="4.2" height="50.600" fill="#e30a26"/>
</g>

</svg>
<div class="t" style="left:877.90px;top:311.00px;font-size:32.80px;font-weight:700;">Trenčiansky kraj</div>
<div class="t" style="left:930.80px;top:358.00px;font-size:43.00px;font-weight:700;color:#b5130a;transform:scale(1.0000,1.0400);transform-origin:0 36px;">15,2 %</div>
<div class="t" style="left:930.60px;top:420.00px;font-size:43.00px;color:#6d6d6d;transform:scale(1.0000,1.0400);transform-origin:0 36px;">85 300</div>
<div class="t" style="left:568.60px;top:516.00px;font-size:32.80px;font-weight:700;">Trnavský kraj</div>
<div class="t" style="left:621.50px;top:562.00px;font-size:43.00px;font-weight:700;color:#b5130a;transform:scale(1.0000,1.0400);transform-origin:0 36px;">12,1 %</div>
<div class="t" style="left:621.30px;top:624.00px;font-size:43.00px;color:#6d6d6d;transform:scale(1.0000,1.0400);transform-origin:0 36px;">67 600</div>
<div class="t" style="left:1311.30px;top:281.00px;font-size:32.80px;font-weight:700;">Žilinský kraj</div>
<div class="t" style="left:1364.20px;top:328.00px;font-size:43.00px;font-weight:700;color:#b5130a;transform:scale(1.0000,1.0400);transform-origin:0 36px;">13,7 %</div>
<div class="t" style="left:1364.00px;top:390.00px;font-size:43.00px;color:#6d6d6d;transform:scale(1.0000,1.0400);transform-origin:0 36px;">92 900</div>
<div class="t" style="left:2053.70px;top:369.00px;font-size:32.80px;font-weight:700;">Prešovský kraj</div>
<div class="t" style="left:2106.60px;top:416.00px;font-size:43.00px;font-weight:700;color:#b5130a;transform:scale(1.0000,1.0400);transform-origin:0 36px;">28,0 %</div>
<div class="t" style="left:2106.40px;top:478.00px;font-size:43.00px;color:#6d6d6d;transform:scale(1.0000,1.0400);transform-origin:0 36px;">224 000</div>
<div class="t" style="left:1311.30px;top:732.00px;font-size:32.80px;font-weight:700;">Banskobystrický kraj</div>
<div class="t" style="left:1364.20px;top:779.00px;font-size:43.00px;font-weight:700;color:#b5130a;transform:scale(1.0000,1.0400);transform-origin:0 36px;">23,1 %</div>
<div class="t" style="left:1364.00px;top:841.00px;font-size:43.00px;color:#6d6d6d;transform:scale(1.0000,1.0400);transform-origin:0 36px;">140 500</div>
<div class="t" style="left:1900.50px;top:776.00px;font-size:32.80px;font-weight:700;">Košický kraj</div>
<div class="t" style="left:1953.40px;top:823.00px;font-size:43.00px;font-weight:700;color:#b5130a;transform:scale(1.0000,1.0400);transform-origin:0 36px;">23,3 %</div>
<div class="t" style="left:1953.20px;top:884.00px;font-size:43.00px;color:#6d6d6d;transform:scale(1.0000,1.0400);transform-origin:0 36px;">179 300</div>
<div class="t" style="left:568.60px;top:973.00px;font-size:32.80px;font-weight:700;">Bratislavský kraj</div>
<div class="t" style="left:621.50px;top:1019.00px;font-size:43.00px;font-weight:700;color:#b5130a;transform:scale(1.0000,1.0400);transform-origin:0 36px;">8,6 %</div>
<div class="t" style="left:621.30px;top:1081.00px;font-size:43.00px;color:#6d6d6d;transform:scale(1.0000,1.0400);transform-origin:0 36px;">62 300</div>
<div class="t" style="left:973.50px;top:1082.00px;font-size:32.80px;font-weight:700;">Nitriansky kraj</div>
<div class="t" style="left:1026.40px;top:1129.00px;font-size:43.00px;font-weight:700;color:#b5130a;transform:scale(1.0000,1.0400);transform-origin:0 36px;">19,4 %</div>
<div class="t" style="left:1026.20px;top:1190.00px;font-size:43.00px;color:#6d6d6d;transform:scale(1.0000,1.0400);transform-origin:0 36px;">128 200</div>
<div class="t" style="left:1612.90px;top:1068.00px;font-size:32.80px;font-weight:700;">Slovensko</div>
<div class="t" style="left:1665.80px;top:1115.00px;font-size:43.00px;font-weight:700;color:#b5130a;transform:scale(1.0000,1.0400);transform-origin:0 36px;">18,3 %</div>
<div class="t" style="left:1665.60px;top:1177.00px;font-size:43.00px;color:#6d6d6d;transform:scale(1.0000,1.0400);transform-origin:0 36px;">980 200</div>
<div class="t" style="left:504.78px;top:32.00px;font-size:55.60px;font-weight:700;letter-spacing:0.052px;">Obyvatelia SR ohrození chudobou</div>
<div class="t" style="left:504.92px;top:102.00px;font-size:55.60px;letter-spacing:-0.218px;">(podiel osôb v %, počet osôb, EU SILC 2024)</div>
<div class="t" style="left:2176.21px;top:41.00px;font-size:35.20px;color:#064ea2;transform:scale(1.0032,1.0000);transform-origin:0 30px;-webkit-text-stroke:1.20px #064ea2;">ŠTATISTICKÝ</div>
<div class="t" style="left:2175.36px;top:79.00px;font-size:35.20px;color:#064ea2;transform:scale(1.0777,1.0000);transform-origin:0 30px;-webkit-text-stroke:1.20px #064ea2;">ÚRAD</div>
<div class="t" style="left:2176.31px;top:117.00px;font-size:35.20px;color:#064ea2;transform:scale(0.9391,1.0000);transform-origin:0 30px;-webkit-text-stroke:1.20px #064ea2;">SLOVENSKEJ</div>
<div class="t" style="left:2176.36px;top:154.00px;font-size:35.20px;color:#064ea2;transform:scale(0.9776,1.0000);transform-origin:0 30px;-webkit-text-stroke:1.20px #064ea2;">REPUBLIKY</div>
<div class="t" style="left:505.18px;top:1365.00px;font-size:43.20px;font-weight:700;">Podiel osôb ohrozených chudobou</div>
<div class="t" style="left:506.80px;top:1417.00px;font-size:43.20px;font-weight:700;letter-spacing:0.054px;">alebo sociálnym vylúčením<sup style="font-weight:400;letter-spacing:0">1)</sup></div>
<div class="t" style="left:547.10px;top:1479.00px;font-size:42.40px;">do 9,0 %</div>
<div class="t" style="left:547.10px;top:1531.00px;font-size:42.40px;">od 9,1 % do 16,0 %</div>
<div class="t" style="left:547.10px;top:1584.00px;font-size:42.40px;">od 16,1 % do 24,0 %</div>
<div class="t" style="left:547.10px;top:1636.00px;font-size:42.40px;">od 24,1 % do 28,0 %</div>
<div class="t" style="left:1608.32px;top:1368.00px;font-size:42.80px;">podiel obyvateľov ohrozených chudobou<sup style="letter-spacing:0">1)</sup></div>
<div class="t" style="left:1608.32px;top:1420.00px;font-size:42.80px;letter-spacing:0.011px;">počet obyvateľov ohrozených chudobou<sup style="letter-spacing:0">2)</sup></div>
<div class="t" style="left:1608.21px;top:1472.00px;font-size:42.80px;letter-spacing:0.118px;">nárast počtu chudobných medziročne</div>
<div class="t" style="left:1608.32px;top:1524.00px;font-size:42.80px;letter-spacing:0.158px;">pokles počtu chudobných medziročne</div>
<div class="t" style="left:506.80px;top:1761.00px;font-size:24.00px;color:#5d6a73;">1)</div>
<div class="t" style="left:540.12px;top:1760.00px;font-size:43.00px;color:#5d6a73;letter-spacing:0.007px;">Ide o podiel osôb ohrozených jednou, či viacerými z 3 dimenzií chudoby z celkového počtu</div>
<div class="t" style="left:543.77px;top:1812.00px;font-size:43.00px;color:#5d6a73;letter-spacing:0.007px;">obyvateľov – Miera rizika chudoby alebo sociálneho vylúčenia</div>
<div class="t" style="left:506.40px;top:1865.00px;font-size:24.00px;color:#5d6a73;">2)</div>
<div class="t" style="left:540.12px;top:1864.00px;font-size:43.00px;color:#5d6a73;letter-spacing:0.013px;">Ide o počet osôb ohrozených jednou, či viacerými z 3 dimenzií chudoby</div>
</body></html>
